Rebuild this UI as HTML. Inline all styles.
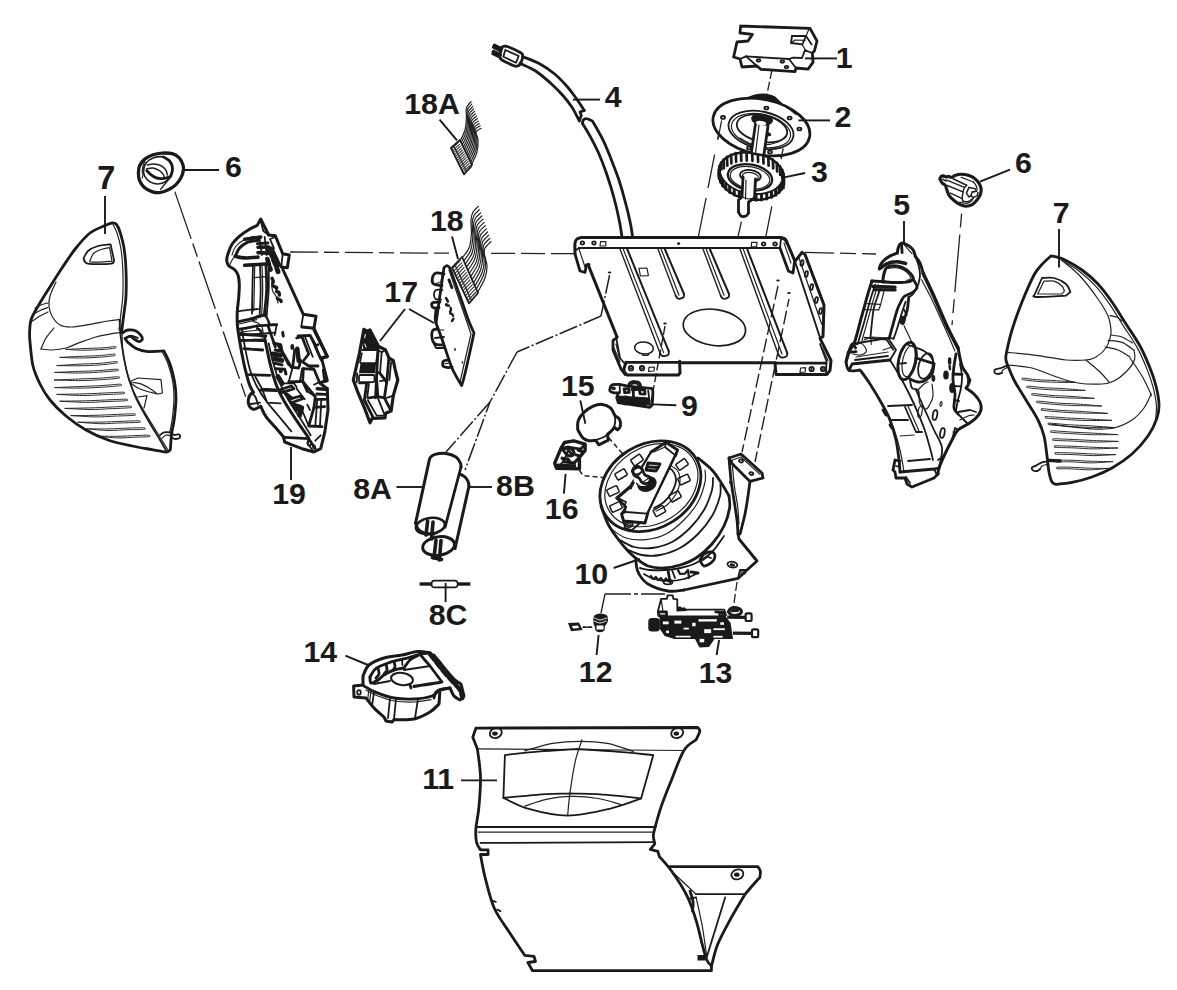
<!DOCTYPE html>
<html lang="en">
<head>
<meta charset="utf-8">
<title>Parts diagram</title>
<style>
html,body{margin:0;padding:0;background:#fff;}
body{width:1177px;height:990px;overflow:hidden;}
svg{display:block;}
.o{fill:none;stroke:#1a1a1a;stroke-width:2.8;stroke-linejoin:round;stroke-linecap:round;}
.m{fill:none;stroke:#1a1a1a;stroke-width:1.8;stroke-linejoin:round;stroke-linecap:round;}
.t{fill:none;stroke:#222;stroke-width:1.2;stroke-linejoin:round;stroke-linecap:round;}
.h{fill:none;stroke:#333;stroke-width:0.8;stroke-linejoin:round;stroke-linecap:round;}
.w{fill:#fff;}
.k{fill:#1a1a1a;stroke:none;}
.d{fill:none;stroke:#222;stroke-width:1.3;}
.l{fill:none;stroke:#1a1a1a;stroke-width:1.9;}
text{font-family:"Liberation Sans",sans-serif;font-size:30px;fill:#1a1a1a;stroke:#1a1a1a;stroke-width:0.5;}
text.b{font-weight:bold;stroke-width:0;}
</style>
</head>
<body>
<svg width="1177" height="990" viewBox="0 0 1177 990">
<rect width="1177" height="990" fill="#fff"/>
<!-- center lines -->
<path class="d" d="M174.8 191.6L248.4 404.5" style="stroke-dasharray:50 5 14 5;stroke-dashoffset:0;stroke-width:1.3"/>
<path class="d" d="M290 252L450 253.2" style="stroke-dasharray:28 6 15 6;stroke-dashoffset:0;stroke-width:1.3"/>
<path class="d" d="M491 253.4L575 253.6" style="stroke-dasharray:24 6;stroke-dashoffset:0;stroke-width:1.3"/>
<path class="d" d="M805 252.4L876 254" style="stroke-dasharray:29 6 16 6;stroke-dashoffset:0;stroke-width:1.3"/>
<path class="d" d="M961.6 213.6L952 325" style="stroke-dasharray:14 7 58 7;stroke-dashoffset:0;stroke-width:1.3"/>
<path class="d" d="M772 70L767 94" style="stroke-dasharray:9 3;stroke-dashoffset:0;stroke-width:1.3"/>
<path class="d" d="M721.6 119.3L698.4 236.7" style="stroke-dasharray:21 15 34 10 40 5;stroke-dashoffset:0;stroke-width:1.3"/>
<path class="d" d="M741.4 221.6L738 236.7" style="stroke-dasharray:20 4;stroke-dashoffset:0;stroke-width:1.3"/>
<path class="d" d="M783.3 148.4L765.8 236.7" style="stroke-dasharray:11 19 17 12 33 4;stroke-dashoffset:0;stroke-width:1.3"/>
<path class="d" d="M778 286L742 452" style="stroke-dasharray:14 4;stroke-dashoffset:0;stroke-width:1.4"/>
<path class="d" d="M789 299L755 462" style="stroke-dasharray:14 4;stroke-dashoffset:6;stroke-width:1.4"/>
<path class="d" d="M609.6 275L601 316" style="stroke-dasharray:19 2.5 2 2.5;stroke-dashoffset:0;stroke-width:1.5"/>
<path class="d" d="M601 316L517 352" style="stroke-dasharray:19 2.5 2 2.5;stroke-dashoffset:0;stroke-width:1.5"/>
<path class="d" d="M517 352L490 402" style="stroke-dasharray:19 2.5 2 2.5;stroke-dashoffset:0;stroke-width:1.5"/>
<path class="d" d="M490 402L446 452" style="stroke-dasharray:19 2.5 2 2.5;stroke-dashoffset:0;stroke-width:1.5"/>
<path class="d" d="M490 402L465 470" style="stroke-dasharray:19 2.5 2 2.5;stroke-dashoffset:8;stroke-width:1.5"/>
<path class="d" d="M665 326L651 402" style="stroke-dasharray:9 3;stroke-dashoffset:0;stroke-width:1.4"/>
<path class="d" d="M608.7 437.7L630 462.3" style="stroke-dasharray:5 3;stroke-dashoffset:0;stroke-width:1.5"/>
<path class="d" d="M579.3 470.3L583.3 475.7L606 477.7L616.7 478.3L628.7 486.3" style="stroke-dasharray:5 3;stroke-dashoffset:0;stroke-width:1.5"/>
<path class="d" d="M605 594L665 594" style="stroke-dasharray:26 3 4 3;stroke-dashoffset:0;stroke-width:1.5"/>
<path class="l" d="M605 594L601 613" style="stroke-width:1.3"/>
<path class="d" d="M737 582L733 610" style="stroke-dasharray:9 3;stroke-dashoffset:0;stroke-width:1.3"/>

<!-- cover 7 left -->
<path class="o" d="M121.6 332C121.9 329.3 122.9 322 123.6 316C124.3 310 125.6 303.7 126 296C126.4 288.3 126.3 278 126 270C125.7 262 125 254.3 124 248C123 241.7 121.2 235.9 120 232C118.8 228.1 117.8 226 116.5 224.5C115.2 223 113.9 222.8 112 223C110.1 223.2 108.7 223.9 105 225.6C101.3 227.3 94.8 229.3 90 233C85.2 236.7 80.7 242.2 76 248C71.3 253.8 66.7 261 62 268C57.3 275 52.2 283.3 48 290C43.8 296.7 39.8 303 37 308C34.2 313 32.2 316 31 320C29.8 324 29.8 328.3 29.6 332C29.4 335.7 29.4 336.3 30 342C30.6 347.7 31.3 359 33 366C34.7 373 37.2 378.3 40 384C42.8 389.7 45.7 394.7 50 400C54.3 405.3 60 411 66 416C72 421 79 426 86 430C93 434 100.3 437.3 108 440C115.7 442.7 124.7 444.4 132 446C139.3 447.6 146.3 448.6 152 449.6C157.7 450.6 163 451.9 166 452C169 452.1 169.3 450.3 170 450"/>
<path class="t" d="M113 224.5C113.7 225.9 115.7 229.1 117 233C118.3 236.9 119.8 241.8 120.8 248C121.8 254.2 122.5 262 122.8 270C123.1 278 123.2 288.3 122.8 296C122.4 303.7 121.2 310.3 120.6 316C120 321.7 119.3 327.7 119 330"/>
<path class="o" d="M122.4 333C123.3 332.5 125.7 330.3 128 330C130.3 329.7 133.8 330.1 136 331C138.2 331.9 139.9 334.3 141 335.6C142.1 336.9 142.7 338 142.4 339C142.1 340 140.4 341.6 139 341.6C137.6 341.6 135.5 339.9 134 339C132.5 338.1 131.5 336.5 130 336.4C128.5 336.3 125.8 338.1 125 338.4C125.5 339.1 126.2 340.7 128 342.4C129.8 344.1 132.7 346.9 136 348.4C139.3 349.9 143.3 351.2 148 351.6C152.7 352 161.3 351.1 164 351C165 353.2 168.2 358.8 170 364C171.8 369.2 173.6 376.3 174.6 382C175.6 387.7 176 392 176 398C176 404 175.1 412 174.4 418C173.7 424 172.3 428.8 171.6 434C170.9 439.2 170.6 446.5 170.4 449"/>
<path class="m" d="M128 342.4C129.3 343.4 132.7 346.9 136 348.4C139.3 349.9 143.3 351.2 148 351.6C152.7 352 161.3 351.1 164 351"/>
<path class="t" d="M162.4 352C163.4 354.2 166.7 360 168.4 365C170.1 370 171.9 376.5 172.8 382C173.7 387.5 174.1 392 174 398C173.9 404 173.1 412.2 172.4 418C171.7 423.8 170.1 430.5 169.6 433"/>
<path class="m" d="M126 338C126.8 337.6 129 335.6 131 335.6C133 335.6 136.8 337.6 138 338"/>
<path class="m" d="M119.6 320C119.8 322.7 119.9 330 120.6 336C121.3 342 122.4 349.3 123.6 356C124.8 362.7 125.9 369 128 376C130.1 383 132.7 390.7 136 398C139.3 405.3 144 413 148 420C152 427 156.9 434.8 160 440C163.1 445.2 165.3 449.2 166.4 451"/>
<path class="t" d="M122 333C122.1 335.8 122.2 344.5 122.8 350C123.4 355.5 124.3 360.3 125.6 366C126.9 371.7 128 377.7 130.4 384C132.8 390.3 136.4 397.3 140 404C143.6 410.7 148.2 417.7 152 424C155.8 430.3 160.3 437.7 163 442C165.7 446.3 167.2 448.7 168 450"/>
<path class="t" d="M56 282C55 284.3 51.2 292 50 296C48.8 300 48.7 302.7 49 306C49.3 309.3 50.2 312.8 52 316C53.8 319.2 56.7 323.2 60 325C63.3 326.8 67 327.1 72 327C77 326.9 84 325.4 90 324.4C96 323.4 103 321.8 108 321C113 320.2 118 319.8 120 319.6"/>
<path class="t" d="M41 349C42.8 349.2 47.8 350.2 52 350C56.2 349.8 61.3 349.3 66 348C70.7 346.7 75 344.2 80 342.4C85 340.6 90.7 338.5 96 337C101.3 335.5 108 334.3 112 333.6C116 332.9 118.7 332.8 120 332.6"/>
<path class="t" d="M54 328C52.7 329.7 48.2 334.5 46 338C43.8 341.5 41.8 347.2 41 349"/>
<path class="t" d="M31 322C32.5 321 37.2 317.7 40 316C42.8 314.3 46.7 312.7 48 312"/>
<path class="t" d="M35 308C36 307.5 38.8 305.8 41 305C43.2 304.2 46.8 303.3 48 303"/>
<path class="t" d="M34 314C35.2 313.3 38.7 311.1 41 310C43.3 308.9 46.8 307.9 48 307.5"/>
<path class="m" d="M83.6 258.4C84.3 257.2 85.6 253.1 88 251C90.4 248.9 94.2 247.1 98 246C101.8 244.9 108.5 244.7 110.6 244.4L114 260C113.5 260.6 115.3 263 111 263.6C106.7 264.2 92.6 264.5 88 263.6C83.4 262.7 84.3 259.3 83.6 258.4"/>
<path class="t" d="M90 260.4C90.7 259.2 92 254.9 94 253C96 251.1 99.4 250.1 102 249.2C104.6 248.3 108.3 247.9 109.6 247.6L112 261.2C108.7 261.4 95.7 262.3 92 262.2C88.3 262.1 90.3 260.7 90 260.4"/>
<path class="t" d="M66 349.4C68.8 349.5 76.8 350.2 83 350.2C89.2 350.2 97.8 349.7 103 349.4C108.2 349.1 112.2 348.5 114.4 348.2C116.6 347.9 116 347.7 116 347.4C116 347.1 116.6 346.5 114.4 346.6C112.2 346.7 108.2 347.5 103 347.8C97.8 348.1 89.2 348.3 83 348.6C76.8 348.9 68.8 349.3 66 349.4" style="stroke-width:0.95"/>
<path class="t" d="M60 357.4C63.2 357.5 72.9 358 79.5 358C86.1 358 93.8 357.6 99.5 357.2C105.2 356.8 110.8 356.2 113.4 355.8C116 355.4 115 355.3 115 355C115 354.7 116 354.1 113.4 354.2C110.8 354.3 105.2 355.2 99.5 355.6C93.8 356 86.1 356.1 79.5 356.4C72.9 356.7 63.2 357.2 60 357.4" style="stroke-width:0.95"/>
<path class="t" d="M57 365.6C60.7 365.6 72 365.9 79 365.8C86 365.7 92.9 365.4 99 365C105.1 364.6 112.4 363.6 115.4 363.2C118.4 362.8 117 362.7 117 362.4C117 362.1 118.4 361.4 115.4 361.6C112.4 361.8 105.1 363 99 363.4C92.9 363.8 86 363.8 79 364.2C72 364.6 60.7 365.4 57 365.6" style="stroke-width:0.95"/>
<path class="t" d="M55 372.4C58.9 372.5 71.2 373 78.5 373C85.8 373 92.2 372.6 98.5 372.2C104.8 371.8 113.2 371.2 116.4 370.8C119.7 370.4 118 370.3 118 370C118 369.7 119.7 369.1 116.4 369.2C113.2 369.3 104.8 370.2 98.5 370.6C92.2 371 85.8 371.1 78.5 371.4C71.2 371.7 58.9 372.2 55 372.4" style="stroke-width:0.95"/>
<path class="t" d="M54.4 380C58.5 380.1 71.3 380.6 78.7 380.6C86.1 380.6 92.2 380.2 98.7 379.8C105.2 379.4 114 378.8 117.4 378.4C120.8 378 119 377.9 119 377.6C119 377.3 120.8 376.7 117.4 376.8C114 376.9 105.2 377.8 98.7 378.2C92.2 378.6 86.1 378.7 78.7 379C71.3 379.3 58.5 379.8 54.4 380" style="stroke-width:0.95"/>
<path class="t" d="M55 387.6C59.2 387.7 72.5 388.2 80 388.1C87.5 388.1 93.4 387.7 100 387.3C106.6 386.9 115.9 386.2 119.4 385.8C122.9 385.4 121 385.3 121 385C121 384.7 122.9 384.1 119.4 384.2C115.9 384.3 106.6 385.3 100 385.7C93.4 386.1 87.5 386.2 80 386.5C72.5 386.8 59.2 387.4 55 387.6" style="stroke-width:0.95"/>
<path class="t" d="M57 394.4C61.2 394.6 74.9 395.4 82.5 395.5C90.1 395.6 95.8 395 102.5 394.7C109.2 394.4 118.8 394.1 122.4 393.8C126 393.5 124 393.3 124 393C124 392.7 126 392.2 122.4 392.2C118.8 392.2 109.2 392.8 102.5 393.1C95.8 393.4 90.1 393.7 82.5 393.9C74.9 394.1 61.2 394.3 57 394.4" style="stroke-width:0.95"/>
<path class="t" d="M60 401.2C64.2 401.4 77.9 402.3 85.5 402.4C93.1 402.5 98.8 401.9 105.5 401.6C112.2 401.3 121.8 401.1 125.4 400.8C129 400.5 127 400.3 127 400C127 399.7 129 399.2 125.4 399.2C121.8 399.2 112.2 399.7 105.5 400C98.8 400.3 93.1 400.6 85.5 400.8C77.9 401 64.2 401.1 60 401.2" style="stroke-width:0.95"/>
<path class="t" d="M65 408.4C69.2 408.6 82.5 409.4 90 409.5C97.5 409.6 103.4 409 110 408.7C116.6 408.4 125.9 408.1 129.4 407.8C132.9 407.5 131 407.3 131 407C131 406.7 132.9 406.2 129.4 406.2C125.9 406.2 116.6 406.8 110 407.1C103.4 407.4 97.5 407.7 90 407.9C82.5 408.1 69.2 408.3 65 408.4" style="stroke-width:0.95"/>
<path class="t" d="M71 415.6C75 415.8 87.7 416.8 95 416.9C102.3 417 108.6 416.4 115 416.1C121.4 415.9 130.1 415.6 133.4 415.4C136.7 415.1 135 414.9 135 414.6C135 414.3 136.7 413.8 133.4 413.8C130.1 413.8 121.4 414.2 115 414.5C108.6 414.8 102.3 415.1 95 415.3C87.7 415.5 75 415.6 71 415.6" style="stroke-width:0.95"/>
<path class="t" d="M78 422.2C81.8 422.4 93.8 423.6 101 423.7C108.2 423.8 114.8 423.1 121 422.9C127.2 422.7 135.2 422.6 138.4 422.4C141.6 422.2 140 421.9 140 421.6C140 421.3 141.6 420.9 138.4 420.8C135.2 420.8 127.2 421.1 121 421.3C114.8 421.5 108.2 422 101 422.1C93.8 422.2 81.8 422.2 78 422.2" style="stroke-width:0.95"/>
<path class="t" d="M87 428.8C90.5 429.1 101.2 430.4 108 430.5C114.8 430.6 122.1 429.9 128 429.7C133.9 429.5 140.6 429.6 143.4 429.4C146.2 429.2 145 428.9 145 428.6C145 428.3 146.2 427.9 143.4 427.8C140.6 427.7 133.9 427.9 128 428.1C122.1 428.3 114.8 428.8 108 428.9C101.2 429 90.5 428.8 87 428.8" style="stroke-width:0.95"/>
<path class="t" d="M100 436.2C102.8 436.5 110.8 437.8 117 437.9C123.2 438 131.8 437.3 137 437.1C142.2 436.9 146.2 437 148.4 436.8C150.6 436.6 150 436.3 150 436C150 435.7 150.6 435.3 148.4 435.2C146.2 435.1 142.2 435.3 137 435.5C131.8 435.7 123.2 436.2 117 436.3C110.8 436.4 102.8 436.2 100 436.2" style="stroke-width:0.95"/>
<path class="t" d="M131 381L138 378L161 379.6L162.4 393C161.3 393.1 159.7 394.3 156 393.6C152.3 392.9 144 390.6 140 389C136 387.4 133.5 385.3 132 384C130.5 382.7 131.2 381.5 131 381"/>
<path class="t" d="M133 382.4C134.2 382.6 137.3 382.7 140 383.6C142.7 384.5 146.3 386.5 149 388C151.7 389.5 154.8 392 156 392.8"/>
<path class="t" d="M138 397L147 395.6L144 408"/>
<path class="m" d="M160 435C160.7 434.6 162.3 432.8 164 432.4C165.7 432 168.3 432 170 432.4C171.7 432.8 173.3 434.6 174 435C174.8 434.9 178 434 179 434.4C180 434.8 180.5 436.8 180 437.6C179.5 438.4 177.3 438.9 176 439C174.7 439.1 173 438.2 172.4 438"/>
<path class="t" d="M162.4 438C163 437.5 164.7 435.4 166 435C167.3 434.6 169.3 435.5 170 435.6"/>
<path class="l" d="M105 196L105 234"/>

<!-- grommet 6 left -->
<path class="o" d="M138.4 173.1C138.4 170.6 138.6 167.8 139.7 165.5C140.7 163.2 142.6 160.9 144.8 159.1C146.9 157.4 149.5 156 152.4 155C155.3 154 158.7 153.3 162 153.1C165.3 152.9 169.3 152.9 172.2 153.7C175 154.5 177.4 156 179.2 157.8C181 159.7 182.3 162.7 183 164.9C183.7 167 183.6 168.5 183.3 170.6C183 172.7 182.3 175.3 181.1 177.6C179.9 179.9 178.1 182.6 176 184.6C173.9 186.6 171.1 188.4 168.3 189.7C165.6 191 162.2 192.3 159.4 192.6C156.7 192.9 154.3 192.5 151.8 191.6C149.2 190.7 146.1 189 144.1 187.2C142.1 185.4 140.6 183.1 139.7 180.8C138.7 178.5 138.4 175.7 138.4 173.1Z" style="stroke-width:3.3"/>
<path class="m" d="M146 162.9C147.7 160.9 150.8 158.9 153.7 157.8C156.5 156.8 160.6 156.4 163.2 156.9C165.9 157.4 168.1 159.2 169.6 161C171.2 162.9 172.3 165.6 172.5 168C172.7 170.5 172 173.5 170.9 175.7C169.8 177.9 167.9 180 165.8 181.4C163.7 182.8 160.7 183.9 158.1 184C155.6 184.1 152.7 183.3 150.5 182.1C148.3 180.8 145.9 178.3 144.8 176.3C143.6 174.3 143.3 172.2 143.5 170C143.7 167.7 144.3 165 146 162.9Z" style="stroke-width:1.6"/>
<path class="o" d="M163.2 156.9C164.3 157.6 168.1 159.2 169.6 161C171.2 162.9 172.3 165.6 172.5 168C172.7 170.5 171.5 174.1 170.9 175.7C170.3 177.3 169.3 177.3 169 177.6" style="stroke-width:2.8"/>
<path class="t" d="M147.3 164.9C148.4 164.7 151.4 163.8 153.7 163.9C155.9 164 158.7 164.5 160.7 165.5C162.7 166.5 164.7 168.4 165.8 170C166.9 171.5 167.1 174.2 167.4 175.1" style="stroke-width:1.5"/>
<path class="t" d="M146.7 168.7C147.7 168.6 150.9 167.7 153 168C155.2 168.4 157.7 169.5 159.4 170.6C161.1 171.7 162.4 173.2 163.2 174.4C164.1 175.6 164.3 177.1 164.5 177.6" style="stroke-width:1.5"/>
<path class="o" d="M146.7 170.6C147.3 171.2 149 173.2 150.5 174.4C152 175.6 153.9 176.9 155.6 177.6C157.3 178.3 159 178.5 160.7 178.6C162.4 178.7 164.4 178.5 165.8 178.2C167.2 178 168.4 177.2 169 177" style="stroke-width:2.8"/>
<path class="t" d="M146 162.9C145.7 163.6 144.5 165.3 144.1 166.8C143.7 168.3 143.8 170 143.5 171.9C143.2 173.8 142.4 177.2 142.2 178.2"/>
<path class="t" d="M144.8 161C144.4 162 143.3 164.8 142.8 166.8C142.4 168.8 142.3 172.1 142.2 173.1"/>
<path class="t" d="M169.6 178.2L160.7 189.1" style="stroke-width:1.5"/>
<path class="l" d="M184 170L200 170"/>
<path class="l" d="M184 170L219 170"/>

<!-- cover 7 right -->
<path class="o" d="M1051 256C1049.5 257.4 1044.8 261.2 1042 264.4C1039.2 267.6 1037.3 268.7 1034 275C1030.7 281.3 1025.7 292.8 1022 302C1018.3 311.2 1014.6 321.5 1012 330C1009.4 338.5 1007.4 348 1006.4 353C1005.4 358 1005.7 357.8 1006 360C1006.3 362.2 1006.7 362.7 1008 366C1009.3 369.3 1011 374.3 1014 380C1017 385.7 1022 393.3 1026 400C1030 406.7 1035 414 1038 420C1041 426 1042.5 430 1044 436C1045.5 442 1046.2 450 1047 456C1047.8 462 1048.2 467.7 1049 472C1049.8 476.3 1050.8 479.9 1052 482C1053.2 484.1 1055.3 484 1056 484.4C1058.7 484.1 1066 483.6 1072 482.4C1078 481.2 1085.3 479.4 1092 477C1098.7 474.6 1105.3 471.8 1112 468C1118.7 464.2 1126 459.3 1132 454C1138 448.7 1143.8 442 1148 436C1152.2 430 1155.2 423.3 1157 418C1158.8 412.7 1159.2 409.3 1159 404C1158.8 398.7 1157.5 392 1156 386C1154.5 380 1152.7 374.7 1150 368C1147.3 361.3 1144 353.3 1140 346C1136 338.7 1130.7 331.3 1126 324C1121.3 316.7 1116.7 308.7 1112 302C1107.3 295.3 1103 289.3 1098 284C1093 278.7 1087.3 273.9 1082 270C1076.7 266.1 1070.3 262.6 1066 260.4C1061.7 258.2 1058.5 257.5 1056 256.8C1053.5 256.1 1051.8 256.1 1051 256"/>
<path class="t" d="M1062 260.4C1065 263 1074 269.6 1080 276C1086 282.4 1093.3 292.3 1098 299C1102.7 305.7 1105.8 310.8 1108 316C1110.2 321.2 1110.7 326.3 1111 330C1111.3 333.7 1110.8 335 1110 338C1109.2 341 1108.3 344.8 1106 348C1103.7 351.2 1099.3 355 1096 357C1092.7 359 1091 359.5 1086 360C1081 360.5 1074 360.7 1066 360C1058 359.3 1047.7 356.9 1038 355.6C1028.3 354.3 1013 352.9 1008 352.4"/>
<path class="t" d="M1062 260.4C1064.9 262.2 1073.7 267 1079.2 271.2C1084.7 275.4 1090.2 280.2 1095.2 285.6C1100.2 291 1104.5 296.9 1109.2 303.6C1113.9 310.3 1118.5 318.3 1123.2 325.6C1127.9 332.9 1133.2 340.3 1137.2 347.6C1141.2 354.9 1144.5 362.9 1147.2 369.6C1149.9 376.3 1151.7 381.7 1153.2 387.6C1154.7 393.5 1156 399.8 1156.4 405.2C1156.8 410.6 1155.7 417.5 1155.6 420"/>
<path class="t" d="M1110 315.6C1111.2 315.9 1115 316.3 1117 317.2C1119 318.1 1121.2 320.4 1122 321"/>
<path class="t" d="M1111 335C1112.8 335.3 1118.4 335.7 1122 337C1125.6 338.3 1130.7 342 1132.4 343"/>
<path class="t" d="M1108 340.4C1110.3 340.7 1117.7 340.8 1122 342.4C1126.3 344 1131.7 348.7 1133.6 350"/>
<path class="t" d="M1105 347C1107.2 347.5 1113.8 348.3 1118 350C1122.2 351.7 1128 355.8 1130 357"/>
<path class="t" d="M1086 360C1088.3 362 1096.2 368.3 1100 372C1103.8 375.7 1107.5 380.3 1109 382"/>
<path class="t" d="M1134 350C1134.1 351.7 1135.7 356.3 1134.4 360C1133.1 363.7 1129.4 368.5 1126 372C1122.6 375.5 1118 379 1114 381C1110 383 1108 383.7 1102 384C1096 384.3 1086 384.3 1078 383C1070 381.7 1061.7 378.5 1054 376C1046.3 373.5 1039.8 369.8 1032 368C1024.2 366.2 1011.2 365.5 1007 365"/>
<path class="t" d="M1130 358C1132 361 1138.7 370.3 1142 376C1145.3 381.7 1148.5 388.7 1150 392C1151.5 395.3 1151 395.3 1151.2 396"/>
<path class="t" d="M1151.2 394C1150 396.3 1147.2 403.7 1144 408C1140.8 412.3 1137 416.7 1132 420C1127 423.3 1120.3 426.5 1114 428C1107.7 429.5 1101 429.2 1094 429C1087 428.8 1079.3 427.8 1072 427C1064.7 426.2 1053.7 424.5 1050 424"/>
<path class="m" d="M1034.4 295L1042 278C1044 278 1050 277 1054 278C1058 279 1063.3 281.7 1066 284C1068.7 286.3 1069.7 290.7 1070.4 292L1066 295.6C1061 295.8 1041.3 297.1 1036 297C1030.7 296.9 1034.7 295.3 1034.4 295"/>
<path class="t" d="M1037.6 294L1044 281.2C1045.7 281.2 1051 280.4 1054 281.2C1057 282 1060.3 284.4 1062 286C1063.7 287.6 1064 290.2 1064.4 291L1062 294L1037.6 294"/>
<path class="m" d="M1007 365.6C1006 366 1002.7 367.4 1001 368C999.3 368.6 998.1 368.7 997 369C995.9 369.3 994.9 369.3 994.6 370C994.3 370.7 994.4 372.3 995 373C995.6 373.7 996.8 374 998 374C999.2 374 1001.3 373.2 1002 373"/>
<path class="t" d="M1008 367C1007.2 367.5 1004.1 369 1003 370C1001.9 371 1001.8 372.5 1001.6 373"/>
<path class="m" d="M1047.6 461.6C1046.7 461.7 1043.9 461.7 1042 462.4C1040.1 463.1 1037.7 464.7 1036 465.6C1034.3 466.5 1032.5 466.8 1032 467.6C1031.5 468.4 1032.2 469.8 1033 470.4C1033.8 471 1035.8 471.2 1037 471C1038.2 470.8 1039.5 469.3 1040 469"/>
<path class="t" d="M1047 464.4C1046.2 464.7 1043.2 465.1 1042 466C1040.8 466.9 1040.3 469 1040 469.6"/>
<path class="o" d="M1048 460.4L1060 461" style="stroke-width:3.4"/>
<path class="t" d="M1075 382.4C1071.9 382.4 1062.9 382.5 1056.5 382.3C1050.1 382.1 1042 381.7 1036.5 381.3C1031 380.9 1026 380.2 1023.6 379.8C1021.2 379.4 1022 379.3 1022 379C1022 378.7 1021.2 378.1 1023.6 378.2C1026 378.3 1031 379.3 1036.5 379.7C1042 380.1 1050.1 380.2 1056.5 380.7C1062.9 381.1 1071.9 382.1 1075 382.4" style="stroke-width:0.95"/>
<path class="t" d="M1085 390.4C1081.5 390.4 1070.8 390.5 1064 390.3C1057.2 390.1 1049.9 389.7 1044 389.3C1038.1 388.9 1031.4 388.2 1028.6 387.8C1025.8 387.4 1027 387.3 1027 387C1027 386.7 1025.8 386.1 1028.6 386.2C1031.4 386.3 1038.1 387.3 1044 387.7C1049.9 388.1 1057.2 388.2 1064 388.7C1070.8 389.1 1081.5 390.1 1085 390.4" style="stroke-width:0.95"/>
<path class="t" d="M1094 398.4C1090.2 398.3 1078.2 398.2 1071 398C1063.8 397.8 1057.2 397.5 1051 397C1044.8 396.5 1036.8 395.6 1033.6 395.2C1030.4 394.8 1032 394.7 1032 394.4C1032 394.1 1030.4 393.4 1033.6 393.6C1036.8 393.8 1044.8 394.9 1051 395.4C1057.2 395.9 1063.8 395.9 1071 396.4C1078.2 396.9 1090.2 398.1 1094 398.4" style="stroke-width:0.95"/>
<path class="t" d="M1101.4 406C1097.4 405.9 1084.6 405.8 1077.2 405.6C1069.8 405.4 1063.6 405.1 1057.2 404.6C1050.8 404.1 1042 403.2 1038.6 402.8C1035.2 402.4 1037 402.3 1037 402C1037 401.7 1035.2 401 1038.6 401.2C1042 401.4 1050.8 402.5 1057.2 403C1063.6 403.5 1069.8 403.5 1077.2 404C1084.6 404.5 1097.4 405.7 1101.4 406" style="stroke-width:0.95"/>
<path class="t" d="M1107.4 413.4C1103.2 413.3 1089.9 413.3 1082.4 413.1C1074.9 412.9 1069 412.6 1062.4 412.1C1055.8 411.7 1046.5 410.8 1043 410.4C1039.5 410 1041.4 409.9 1041.4 409.6C1041.4 409.3 1039.5 408.7 1043 408.8C1046.5 408.9 1055.8 410.1 1062.4 410.5C1069 410.9 1074.9 411 1082.4 411.5C1089.9 412 1103.2 413.1 1107.4 413.4" style="stroke-width:0.95"/>
<path class="t" d="M1111.6 420.4C1107.4 420.4 1094 420.6 1086.5 420.5C1079 420.4 1073.1 419.9 1066.5 419.5C1059.9 419.1 1050.5 418.6 1047 418.2C1043.5 417.8 1045.4 417.7 1045.4 417.4C1045.4 417.1 1043.5 416.5 1047 416.6C1050.5 416.7 1059.9 417.5 1066.5 417.9C1073.1 418.3 1079 418.5 1086.5 418.9C1094 419.3 1107.4 420.1 1111.6 420.4" style="stroke-width:0.95"/>
<path class="t" d="M1115 427.6C1110.8 427.6 1097.2 427.6 1089.7 427.4C1082.2 427.2 1076.3 426.8 1069.7 426.4C1063.1 426 1053.5 425.2 1050 424.8C1046.5 424.4 1048.4 424.3 1048.4 424C1048.4 423.7 1046.5 423.1 1050 423.2C1053.5 423.3 1063.1 424.4 1069.7 424.8C1076.3 425.2 1082.2 425.3 1089.7 425.8C1097.2 426.3 1110.8 427.3 1115 427.6" style="stroke-width:0.95"/>
<path class="t" d="M1117.4 434.6C1113.2 434.6 1099.7 434.9 1092.2 434.7C1084.7 434.5 1078.8 434.1 1072.2 433.7C1065.6 433.3 1056.1 432.8 1052.6 432.4C1049.1 432 1051 431.9 1051 431.6C1051 431.3 1049.1 430.7 1052.6 430.8C1056.1 430.9 1065.6 431.7 1072.2 432.1C1078.8 432.5 1084.7 432.7 1092.2 433.1C1099.7 433.5 1113.2 434.4 1117.4 434.6" style="stroke-width:0.95"/>
<path class="t" d="M1118 441.4C1113.9 441.5 1100.9 442.2 1093.5 442.1C1086.1 442.1 1080 441.4 1073.5 441.1C1067 440.8 1058 440.6 1054.6 440.4C1051.2 440.1 1053 439.9 1053 439.6C1053 439.3 1051.2 438.8 1054.6 438.8C1058 438.8 1067 439.2 1073.5 439.5C1080 439.8 1086.1 440.2 1093.5 440.5C1100.9 440.8 1113.9 441.2 1118 441.4" style="stroke-width:0.95"/>
<path class="t" d="M1117.6 448C1113.7 448.1 1101.3 448.9 1094 448.9C1086.7 448.9 1080.3 448.1 1074 447.9C1067.7 447.6 1059.3 447.6 1056 447.4C1052.7 447.2 1054.4 446.9 1054.4 446.6C1054.4 446.3 1052.7 445.9 1056 445.8C1059.3 445.8 1067.7 446.1 1074 446.3C1080.3 446.6 1086.7 447 1094 447.3C1101.3 447.6 1113.7 447.9 1117.6 448" style="stroke-width:0.95"/>
<path class="t" d="M1115.6 454.6C1111.9 454.8 1100.3 455.6 1093.3 455.6C1086.2 455.6 1079.4 454.8 1073.3 454.6C1067.2 454.4 1059.6 454.4 1056.6 454.2C1053.5 454 1055 453.7 1055 453.4C1055 453.1 1053.5 452.7 1056.6 452.6C1059.6 452.5 1067.2 452.8 1073.3 453C1079.4 453.2 1086.2 453.7 1093.3 454C1100.3 454.3 1111.9 454.5 1115.6 454.6" style="stroke-width:0.95"/>
<path class="t" d="M1112.6 461.6C1109.2 461.8 1098.8 462.8 1092.1 462.9C1085.3 462.9 1077.9 462.1 1072.1 461.9C1066.3 461.7 1060 461.9 1057.2 461.8C1054.5 461.7 1055.6 461.3 1055.6 461C1055.6 460.7 1054.5 460.3 1057.2 460.2C1060 460.1 1066.3 460.1 1072.1 460.3C1077.9 460.5 1085.3 461.1 1092.1 461.3C1098.8 461.5 1109.2 461.6 1112.6 461.6" style="stroke-width:0.95"/>
<path class="t" d="M1108 468.4C1105 468.6 1096.5 469.7 1090.2 469.8C1083.9 469.9 1075.6 469 1070.2 468.8C1064.8 468.6 1060.3 468.9 1058 468.8C1055.7 468.7 1056.4 468.3 1056.4 468C1056.4 467.7 1055.7 467.3 1058 467.2C1060.3 467.1 1064.8 467 1070.2 467.2C1075.6 467.4 1083.9 468 1090.2 468.2C1096.5 468.4 1105 468.4 1108 468.4" style="stroke-width:0.95"/>
<path class="l" d="M1059 229L1059 267.6"/>

<!-- panel 19 -->
<path class="o" d="M268.7 235L260.7 219L257.3 225.4C255.9 226.1 251.7 227.8 248.7 229.7C245.7 231.5 242.1 233.9 239.3 236.3C236.6 238.8 233.9 241.4 232 244.3C230.1 247.2 228.9 251 228 253.7C227.1 256.3 226.6 258.3 226.7 260.3C226.8 262.3 227.3 264.1 228.7 265.7C230 267.2 233.1 268.1 234.7 269.7C236.2 271.2 237.2 272.6 238 275C238.8 277.4 239.2 280.6 239.3 284.3C239.4 288.1 239 293.2 238.7 297.7C238.3 302.1 237.6 306.6 237.3 311C237.1 315.4 237.1 320.3 237.3 324.3C237.6 328.3 238.1 331.2 238.7 335C239.2 338.8 240 343.2 240.7 347C241.3 350.8 241.9 353.9 242.7 357.7C243.4 361.4 244.2 365.2 245.3 369.7C246.4 374.1 248 380.6 249.3 384.3C250.7 388.1 252.7 391 253.3 392.3" style="stroke-width:3"/>
<path class="o" d="M268.7 235L275.3 235.7L282.7 253.7L289.3 255L287.3 267.7L281.3 267" style="stroke-width:3"/>
<path class="m" d="M260.7 220.3L263.3 231L268.7 235"/>
<path class="o" d="M282.7 269L303.3 314.3L316 316.3L314 328.3L302 327" style="stroke-width:3"/>
<path class="m" d="M303.3 314.3L301.3 326.3"/>
<path class="o" d="M314 328.3L327.3 356.3L322 357.7" style="stroke-width:3"/>
<path class="o" d="M271.3 247.7L278.7 265.7"/>
<path class="m" d="M275.3 237L270 239L274 248.3"/>
<path class="m" d="M282.7 253.7L281.3 267"/>
<path class="o" d="M235.3 256.3C236 255 237.3 250.7 239.3 248.3C241.3 246 244.2 243.7 247.3 242.3C250.4 241 256.2 240.7 258 240.3" style="stroke-width:3"/>
<path class="o" d="M235.3 256.3C236.9 256.6 240.9 257.8 244.7 257.9C248.4 258.1 255.8 257.3 258 257.1" style="stroke-width:3.6"/>
<path class="t" d="M232 255C232.6 253.7 233.4 249.4 235.3 247C237.2 244.6 240.2 242.1 243.3 240.3C246.4 238.6 252.2 237 254 236.3"/>
<path class="t" d="M230 264.3C230.4 263.4 231.8 260.3 232.7 259C233.6 257.7 234.9 256.8 235.3 256.3"/>
<path class="o" d="M244.7 239.3L260.7 237.1" style="stroke-width:3.6"/>
<path class="o" d="M244.7 265.3L268.7 263.8" style="stroke-width:3.6"/>
<path class="o" d="M257.3 243.7L268 243"/>
<path class="o" d="M258 247.3L268.7 247" style="stroke-width:3.6"/>
<path class="o" d="M258 252.6L268.7 253.1" style="stroke-width:3.6"/>
<path class="m" d="M259.3 237.7L262 255"/>
<path class="m" d="M264.7 237L266.7 255"/>
<path class="o" d="M269.3 249.7L273.3 259L276 265.7L278 271.7" style="stroke-width:5;stroke-dasharray:7 3"/>
<path class="o" d="M267.3 259L270.7 269.7" style="stroke-width:4.5;stroke-dasharray:6 3"/>
<path class="m" d="M272.7 248.3L280.7 265.7"/>
<path class="m" d="M252.9 265.7C252.8 269.7 252.6 281.7 252.4 289.7C252.2 297.7 252.1 309.7 252 313.7"/>
<path class="t" d="M254.7 265.7C254.6 269.7 254.4 282.1 254.3 289.7C254.1 297.2 253.8 307.4 253.7 311"/>
<path class="m" d="M260 265.7C260.1 269.7 260.7 281.7 260.7 289.7C260.6 297.7 259.9 309.7 259.7 313.7"/>
<path class="t" d="M262 265.4C262.1 269.4 262.7 281.6 262.7 289.7C262.6 297.7 261.9 309.7 261.7 313.7"/>
<path class="o" d="M266 264.6C266.1 268.8 266.9 281.4 266.7 289.7C266.4 298 264.8 310.2 264.4 314.3"/>
<path class="m" d="M268.7 268.3C268.7 271.9 269 281.9 268.7 289.7C268.3 297.4 267 310.8 266.7 315"/>
<path class="t" d="M252.9 277.7L266 276.6"/>
<path class="o" d="M272 278.3C272.2 278.9 273.4 280.7 273.3 281.7C273.3 282.7 271.5 283.6 271.6 284.3C271.7 285.1 273.2 285.8 274 286.3C274.8 286.9 276.4 286.9 276.7 287.7C276.9 288.4 275 290.2 275.3 291C275.7 291.8 278 291.6 278.7 292.3C279.3 293.1 279.6 294.7 279.3 295.7C279.1 296.7 277.1 297.6 277.3 298.3C277.6 299.1 280 299.6 280.7 300.3C281.3 301.1 281.2 302.6 281.3 303" style="stroke-dasharray:5 4;stroke-width:3.4"/>
<path class="t" d="M271.6 284.3C271.8 285.4 271.9 289 272.7 291C273.4 293 275.1 294.3 276 296.3C276.9 298.3 277.7 301.9 278 303"/>
<path class="m" d="M238 311.3C239.8 311 245.3 310.3 248.7 309.9C252 309.6 256.4 309.2 258 309"/>
<path class="o" d="M237.7 321.7C239.3 321.3 244.4 320.3 247.3 319.7C250.3 319 252.2 318.6 255.3 317.7C258.4 316.8 264.2 314.9 266 314.3"/>
<path class="t" d="M238.3 324.3C240 323.9 245.6 322.4 248.7 321.7C251.7 320.9 255.3 320 256.7 319.7"/>
<path class="o" d="M238.7 329.3C240.3 329 245.2 328.3 248.7 327.7C252.1 327.1 254.7 326.2 259.3 325.7C264 325.2 273.8 324.8 276.7 324.6"/>
<path class="m" d="M239.3 335.3C241.3 335.1 247.6 334.6 251.3 334.3C255.1 334.1 258 334 262 333.7C266 333.4 273.1 332.8 275.3 332.6"/>
<path class="t" d="M240 332.3C241.7 332.1 246.6 331.4 250 331C253.4 330.6 258.9 329.9 260.7 329.7"/>
<path class="o" d="M240.7 340.6C242.7 340.5 248.7 340.2 252.7 340.1C256.7 339.9 262.7 339.8 264.7 339.8"/>
<path class="m" d="M252.7 320.3C253.3 319.7 254.9 317.2 256.7 316.3C258.4 315.4 261.6 314.6 263.3 315C265.1 315.4 266.3 317.2 267.3 319C268.3 320.8 269 324.6 269.3 325.7"/>
<path class="t" d="M253.3 321.7C254.1 321.9 256.6 322.1 258 323C259.4 323.9 261.1 325.2 262 327C262.9 328.8 263.1 332.6 263.3 333.7"/>
<path class="o" d="M257.3 328.3C257.9 328.8 259.9 329.7 260.7 331C261.4 332.3 261.8 335.4 262 336.3"/>
<path class="m" d="M266 315L270 324.3L276.7 324.6L274.7 335"/>
<path class="o" d="M268 325.7L275.3 347"/>
<ellipse class="k" cx="282.9" cy="332.6" rx="0.9" ry="1.9"/>
<path class="o" d="M253.3 392.3C252.9 392.6 251.5 392.8 250.7 394C249.8 395.2 248.6 397.3 248.4 399.3C248.2 401.3 248.4 404.3 249.3 406C250.3 407.7 252.1 409.3 254 409.3C255.9 409.4 259.6 406.8 260.7 406.3" style="stroke-width:3"/>
<path class="m" d="M252 394C252.6 394.4 254.3 394.9 255.3 396.7C256.3 398.4 257.6 403.3 258 404.7"/>
<path class="m" d="M250.7 404L260 402.7"/>
<path class="o" d="M260.7 406.3C261.6 408 263.6 413.2 266 416.7C268.4 420.2 272.4 424 275.3 427.3C278.2 430.7 282 435.1 283.3 436.7" style="stroke-width:3"/>
<path class="o" d="M283.3 436.7L284.7 442L291.3 444.7L302 448.7L314 452L320.7 448.7L324.7 432.7L328 410L327.3 388.7" style="stroke-width:3"/>
<path class="o" d="M284.7 437.3L308.7 438.7L315.3 448.7"/>
<path class="m" d="M308.7 438.7L307.3 443.3L314 452"/>
<ellipse class="m" cx="309.3" cy="443.3" rx="1.6" ry="2.4"/>
<ellipse class="t" cx="314" cy="446.7" rx="1.3" ry="1.9"/>
<path class="m" d="M320.7 435.3L315.3 440.7"/>
<path class="m" d="M242 330C242.4 332.7 243.3 339.3 244.7 346C246 352.7 248 363.3 250 370C252 376.7 254 380.9 256.7 386C259.3 391.1 262.4 395.8 266 400.7C269.6 405.6 273.8 410.2 278 415.3C282.2 420.4 289.1 428.7 291.3 431.3"/>
<path class="o" d="M264.7 338C265.6 342.2 268 355.3 270 363.3C272 371.3 274.2 379.6 276.7 386C279.1 392.4 281.3 396.2 284.7 402C288 407.8 292.7 414.7 296.7 420.7C300.7 426.7 306.7 435.1 308.7 438" style="stroke-width:3"/>
<path class="m" d="M268.7 343.3C269.4 346.7 271.4 356.7 273.3 363.3C275.2 370 277.6 377.3 280 383.3C282.4 389.3 284.7 393.6 288 399.3C291.3 405.1 296.2 412 300 418C303.8 424 308.9 432.4 310.7 435.3"/>
<path class="o" d="M239.3 334L266 336"/>
<path class="m" d="M242 340L266 341.3"/>
<path class="o" d="M244 348.7L262.7 350"/>
<path class="o" d="M249.3 374.7L270 375.3"/>
<path class="m" d="M255.3 376.7L262 388.7L275.3 389.3"/>
<path class="m" d="M262 388.7L267.3 402.7L280.7 403.3"/>
<path class="o" d="M260.7 390L276.7 390.7"/>
<path class="o" d="M314 330L327.3 356.7L322 358.3" style="stroke-width:3"/>
<path class="o" d="M318 344.7L315.3 346L321.3 360"/>
<path class="o" d="M322 360L327.3 380.7L321.3 382.3" style="stroke-width:3"/>
<path class="o" d="M323.3 370L324.7 380.7"/>
<path class="o" d="M320 383.3L327.3 388.7" style="stroke-width:3"/>
<path class="o" d="M298 336L310 335.3L315.3 344.7"/>
<path class="o" d="M296.7 338L302 336.7L308.7 354L304 360"/>
<path class="m" d="M304.7 336L312.7 356.7"/>
<path class="m" d="M310 335.3L319.3 356.7L321.3 360"/>
<path class="o" d="M294.7 350L292.7 367.3L298.7 368L300.7 360.7"/>
<path class="o" d="M297.3 348.7L298.7 360.7" style="stroke-width:4.5"/>
<path class="o" d="M300.7 360.7L308.7 366L318 366"/>
<path class="m" d="M292.7 367.3L288.7 382"/>
<path class="m" d="M302 368.7L300 380.7"/>
<path class="o" d="M303.3 368.7L314 369.3L319.3 382"/>
<path class="o" d="M303.3 368.7L302.7 381.3L307.3 391.3"/>
<path class="o" d="M288.7 382L302.7 381.3"/>
<path class="m" d="M314 369.3L308.7 366"/>
<path class="m" d="M307.3 391.3L315.3 396.7"/>
<path class="o" d="M302.7 381.3L315.3 396.7L314 407.3"/>
<path class="m" d="M314 384.7L319.3 382"/>
<path class="o" d="M317.3 388.7L326 389.3" style="stroke-width:3.6"/>
<path class="o" d="M316.7 394L326 394.3"/>
<path class="o" d="M315.3 399.3L325.3 399.3"/>
<path class="o" d="M314 407.3L324.7 406.7"/>
<path class="o" d="M314 407.3L308.7 426L322 426.7"/>
<path class="m" d="M317.3 399.3L315.3 426"/>
<path class="m" d="M321.3 399.3L320 426"/>
<path class="m" d="M307.3 404.7L310 410"/>
<path class="m" d="M302 410L308.7 426"/>
<ellipse class="k" cx="292.3" cy="346.9" rx="1.9" ry="2.9"/>
<path class="o" d="M274 343.3L280.7 344.7L282 351.3L275.3 350" style="stroke-width:3"/>
<path class="o" d="M272.7 354L282 355.3" style="stroke-width:5;stroke-dasharray:3 2"/>
<path class="o" d="M274 358.7L283.3 360.7" style="stroke-width:5;stroke-dasharray:3 2"/>
<path class="o" d="M274.7 363.3L282 364.9" style="stroke-width:3"/>
<path class="o" d="M275.3 368.7L284.7 369.3L286 374" style="stroke-width:3"/>
<ellipse class="k" cx="280.7" cy="371.3" rx="1.9" ry="1.9"/>
<path class="o" d="M278 376.7L282 383.3" style="stroke-width:5;stroke-dasharray:4 2"/>
<path class="o" d="M278 344.7L291.3 367.3" style="stroke-width:3"/>
<path class="o" d="M283.3 354L288.7 364.7"/>
<path class="o" d="M279.3 390L291.3 386L294 388.7L282 392.7L279.3 390"/>
<path class="o" d="M288.7 399.3L300.7 396L302.7 398.7L291.3 402.7L288.7 399.3"/>
<path class="o" d="M286 394L291.3 398" style="stroke-width:4;stroke-dasharray:3 2"/>
<path class="o" d="M292.7 404.7L302 407.3L299.3 415.3" style="stroke-width:4.5;stroke-dasharray:3 2"/>
<path class="o" d="M295.3 408.7L300.7 411.3" style="stroke-width:4;stroke-dasharray:3 2"/>
<path class="m" d="M284.7 383.3L294 383.3L296.7 387.3"/>
<path class="m" d="M296.7 388.7L304.7 399.3"/>
<path class="m" d="M303.3 407.3L300.7 416.7"/>
<path class="o" d="M282.7 332.7L283.3 336" style="stroke-width:3"/>
<path class="l" d="M291 447L291 480"/>

<!-- boards 17, ribbons 18/18A -->
<path class="o" d="M363.9 329.4L367.2 331.3L370 330L378.3 346.1L385.6 350L388.9 357.8L393.3 360.6L395 368.9L397.8 380L393.3 395.6L391.1 411.1L385.6 413.3L385 417.8L372.2 418.3L370 422.8L364.4 407.8L357.8 392.2L353.3 380L359.4 353.3L363.9 329.4" style="stroke-width:3.2"/>
<path class="k" d="M363.9 329.4L367.2 331.3L370 330L378.3 346.1L377.8 349.4L363.3 349.4L362.2 342.2Z"/>
<path class="t" d="M365.3 334.4L364.7 337.8" style="stroke:#fff;stroke-width:1"/>
<path class="t" d="M364.7 343.9L366.1 347.2" style="stroke:#fff;stroke-width:1"/>
<path class="k" d="M360.6 363.3L376.1 363.3L375 373.3L358.9 373.3Z"/>
<path class="m" d="M362.2 350L377.8 350L376.1 363.1L360.6 363.1"/>
<path class="m" d="M361.8 353.3L360 362.2"/>
<rect class="m" x="359" y="375" width="15.5" height="7.2" rx="1.5" style="fill:#fff"/>
<path class="m" d="M357.2 373.3L356.7 382.2"/>
<path class="o" d="M378.3 346.7L376.7 373.3L375.6 397.8"/>
<path class="m" d="M381.7 352.2L380 373.3"/>
<path class="o" d="M388.9 357.8L386.7 382.2L384.4 397.8"/>
<path class="m" d="M385.6 350L381.7 352.2L377.8 350"/>
<path class="m" d="M391.1 362.2L389.4 380"/>
<path class="o" d="M377.2 372.2L380 373.3L386.7 382.2"/>
<path class="m" d="M380 381.1L386.7 380.2"/>
<path class="o" d="M376.7 380L377.8 396.7L384.4 397.8L390 408.9"/>
<path class="o" d="M366.7 383.3L364.4 400L373.3 417.8"/>
<path class="m" d="M368.9 383.6L367.2 397.8"/>
<path class="o" d="M368.9 397.8L377.8 396.7"/>
<path class="m" d="M367.8 400L376.7 415.6L385 415.6"/>
<path class="m" d="M377.8 397.8L384.4 414.4"/>
<path class="m" d="M386.7 397.8L393.3 395.6"/>
<path class="m" d="M390 408.9L391.1 411.1"/>
<path class="m" d="M358.9 383.3L366.7 383.3"/>
<path class="o" d="M444 267.6C444.5 267.3 446.1 265.6 447 265.6C447.9 265.6 449.2 267.3 449.6 267.6C451.3 272.3 457 287.6 460 296C463 304.4 465.3 311.8 467.6 318C469.9 324.2 472.9 330.5 474 333C473.2 336.8 470.6 348.8 469 356C467.4 363.2 465.6 371.1 464.4 376C463.2 380.9 462.1 384 461.6 385.6C460 382.7 455.1 375.3 452 368C448.9 360.7 445.7 349.5 443 342C440.3 334.5 437.2 326.2 436 323C436.5 319.5 438.1 308.5 439 302C439.9 295.5 440.8 289.7 441.6 284C442.4 278.3 443.6 270.3 444 267.6" style="stroke-width:2.8"/>
<path class="t" d="M449 270L471 334L460 382"/>
<path class="o" d="M444 274C442.7 273.8 437.9 272.3 436 273C434.1 273.7 432.8 276.2 432.4 278C432 279.8 432 282.7 433.6 284C435.2 285.3 440.6 285.3 442 285.6"/>
<path class="t" d="M434 284L441 282L442 274"/>
<path class="m" d="M442.4 290C441.3 290 437.4 289.3 436 290C434.6 290.7 434.1 292.5 434 294C433.9 295.5 434.4 298.1 435.6 299C436.8 299.9 440.1 299.5 441 299.6"/>
<path class="o" d="M440 302C438.9 302.1 435 301.9 433.6 302.4C432.2 302.9 431.5 304.1 431.6 305C431.7 305.9 432.8 307.6 434 308C435.2 308.4 438.2 307.7 439 307.6"/>
<path class="o" d="M436 310C435.9 311.3 435.2 315.8 435.2 318C435.2 320.2 435.9 322.2 436 323"/>
<path class="o" d="M436 329C435.4 329.3 433.1 329.5 432.4 331C431.7 332.5 431.6 335.8 432 338C432.4 340.2 433.2 342.8 435 344C436.8 345.2 441.7 344.8 443 345"/>
<path class="m" d="M435 338L444 337"/>
<path class="m" d="M434 344L436 348L445 348"/>
<path class="t" d="M436 330L444 330"/>
<path class="o" d="M449 360C448.1 360.2 444.6 360 443.6 361C442.6 362 442.3 364.9 443 366C443.7 367.1 446.5 367.4 448 367.6C449.5 367.8 451.3 367.1 452 367"/>
<path class="t" d="M445 363.6L451 363.2"/>
<path class="m" d="M446 298C446.3 298.7 448 300.8 448 302C448 303.2 445.7 304.3 446 305C446.3 305.7 448.8 305.2 449.6 306C450.4 306.8 451.1 308.8 451 310C450.9 311.2 448.8 312.3 449 313C449.2 313.7 451.2 313.2 452 314C452.8 314.8 453.6 316.8 453.6 318C453.6 319.2 452.3 320.5 452 321" style="stroke-dasharray:4 3;stroke-width:2.4"/>
<path class="o" d="M449 280L452 288" style="stroke-dasharray:3 2;stroke-width:3"/>
<ellipse class="k" cx="455" cy="349.4" rx="0.8" ry="1.6"/>
<ellipse class="k" cx="462.4" cy="362.4" rx="0.7" ry="1.4"/>
<path class="m" d="M452 267.6L462 257L478 293L469 303.4L452 267.6"/>
<path class="t" d="M455 265L471.6 300.4"/>
<path class="h" d="M452.8 268.4L460.4 260.4" style="stroke-width:1.1"/>
<path class="h" d="M454 270.8L461.6 262.8" style="stroke-width:1.1"/>
<path class="h" d="M455.2 273.2L462.8 265.2" style="stroke-width:1.1"/>
<path class="h" d="M456.4 275.6L464 267.6" style="stroke-width:1.1"/>
<path class="h" d="M457.6 278.2L465.2 270.2" style="stroke-width:1.1"/>
<path class="h" d="M458.8 280.6L466.4 272.6" style="stroke-width:1.1"/>
<path class="h" d="M460 283L467.6 275" style="stroke-width:1.1"/>
<path class="h" d="M461.2 285.4L468.8 277.4" style="stroke-width:1.1"/>
<path class="h" d="M462.4 287.8L470 279.8" style="stroke-width:1.1"/>
<path class="h" d="M463.6 290.2L471.2 282.2" style="stroke-width:1.1"/>
<path class="h" d="M464.8 292.6L472.4 284.6" style="stroke-width:1.1"/>
<path class="h" d="M466 295.2L473.6 287.2" style="stroke-width:1.1"/>
<path class="h" d="M467.2 297.6L474.8 289.6" style="stroke-width:1.1"/>
<path class="h" d="M468.4 300L476 292" style="stroke-width:1.1"/>
<path class="h" d="M469.6 302.4L477.2 294.4" style="stroke-width:1.1"/>
<path class="t" d="M462.4 257.6C463.5 256 467.5 251.9 469 248C470.5 244.1 471.1 238.7 471.4 234C471.7 229.3 470.7 223.7 471 220C471.3 216.3 471.8 214.3 473 212C474.2 209.7 477.5 207.3 478.4 206.4"/>
<path class="t" d="M463.8 260.8C464.9 259.1 469 254.7 470.5 250.7C472 246.7 472.5 241.5 472.8 236.9C473.1 232.3 472 226.7 472.2 223.1C472.4 219.5 472.9 217.5 474.1 215.3C475.3 213 478.6 210.5 479.5 209.6"/>
<path class="t" d="M465.2 263.9C466.3 262.2 470.4 257.5 471.9 253.5C473.4 249.4 474 244.4 474.2 239.8C474.5 235.3 473.3 229.7 473.4 226.2C473.6 222.6 474 220.8 475.2 218.5C476.4 216.3 479.8 213.8 480.7 212.8"/>
<path class="t" d="M466.5 267.1C467.7 265.3 471.8 260.2 473.4 256.2C474.9 252.1 475.4 247.2 475.7 242.7C475.9 238.2 474.6 232.8 474.7 229.3C474.8 225.8 475.1 224 476.3 221.8C477.5 219.6 480.9 217 481.8 216"/>
<path class="t" d="M467.9 270.3C469.1 268.4 473.3 263 474.8 258.9C476.3 254.8 476.9 250.1 477.1 245.6C477.3 241.2 475.8 235.8 475.9 232.4C475.9 228.9 476.2 227.3 477.4 225.1C478.5 222.9 482 220.2 483 219.2"/>
<path class="t" d="M469.3 273.4C470.5 271.5 474.7 265.8 476.3 261.6C477.8 257.5 478.4 252.9 478.5 248.5C478.6 244.2 477.1 238.8 477.1 235.5C477.1 232.1 477.3 230.5 478.5 228.4C479.6 226.2 483.2 223.4 484.1 222.4"/>
<path class="t" d="M470.7 276.6C471.9 274.5 476.2 268.5 477.7 264.4C479.3 260.2 479.8 255.8 479.9 251.5C480 247.2 478.4 241.8 478.3 238.5C478.2 235.2 478.4 233.8 479.5 231.6C480.7 229.5 484.3 226.6 485.3 225.6"/>
<path class="t" d="M472.1 279.7C473.3 277.6 477.6 271.3 479.2 267.1C480.7 262.9 481.3 258.6 481.3 254.4C481.4 250.1 479.6 244.9 479.5 241.6C479.4 238.4 479.5 237 480.6 234.9C481.8 232.8 485.5 229.8 486.4 228.8"/>
<path class="t" d="M473.5 282.9C474.7 280.7 479.1 274.1 480.6 269.8C482.2 265.6 482.7 261.5 482.7 257.3C482.8 253.1 480.9 247.9 480.7 244.7C480.6 241.5 480.6 240.3 481.7 238.2C482.9 236.1 486.6 233 487.6 232"/>
<path class="t" d="M474.8 286.1C476.1 283.8 480.5 276.9 482.1 272.5C483.7 268.2 484.2 264.3 484.2 260.2C484.1 256.1 482.2 250.9 482 247.8C481.7 244.7 481.7 243.6 482.8 241.5C483.9 239.4 487.7 236.2 488.7 235.2"/>
<path class="t" d="M476.2 289.2C477.4 286.9 482 279.6 483.5 275.3C485.1 270.9 485.6 267.2 485.6 263.1C485.5 259 483.5 254 483.2 250.9C482.9 247.8 482.8 246.8 483.9 244.7C485 242.6 488.9 239.5 489.9 238.4"/>
<path class="t" d="M477.6 292.4C478.8 290 483.4 282.4 485 278C486.6 273.6 487.1 270 487 266C486.9 262 484.7 257 484.4 254C484.1 251 483.9 250.1 485 248C486.1 245.9 490 242.7 491 241.6"/>
<path class="l" d="M405 309L380 341"/>
<path class="l" d="M409 309L434 323"/>
<path class="l" d="M452 236.4L458 259"/>
<path class="m" d="M451 148L460 140L472 165L464 174.4L451 148"/>
<path class="t" d="M453.6 145.6L466.4 171.6"/>
<path class="h" d="M451.6 148.8L458.4 142.4" style="stroke-width:1.1"/>
<path class="h" d="M452.6 150.8L459.4 144.4" style="stroke-width:1.1"/>
<path class="h" d="M453.6 152.6L460.4 146.2" style="stroke-width:1.1"/>
<path class="h" d="M454.6 154.6L461.4 148.2" style="stroke-width:1.1"/>
<path class="h" d="M455.6 156.4L462.4 150" style="stroke-width:1.1"/>
<path class="h" d="M456.6 158.4L463.4 152" style="stroke-width:1.1"/>
<path class="h" d="M457.6 160.2L464.4 153.8" style="stroke-width:1.1"/>
<path class="h" d="M458.4 162.2L465.2 155.8" style="stroke-width:1.1"/>
<path class="h" d="M459.4 164L466.2 157.6" style="stroke-width:1.1"/>
<path class="h" d="M460.4 166L467.2 159.6" style="stroke-width:1.1"/>
<path class="h" d="M461.4 167.8L468.2 161.4" style="stroke-width:1.1"/>
<path class="h" d="M462.4 169.8L469.2 163.4" style="stroke-width:1.1"/>
<path class="h" d="M463.4 171.6L470.2 165.2" style="stroke-width:1.1"/>
<path class="h" d="M464.4 173.6L471.2 167.2" style="stroke-width:1.1"/>
<path class="t" d="M460.4 140.4C461.2 138.7 464 133.7 465 130C466 126.3 466.2 121.7 466.4 118C466.6 114.3 465.6 110.7 466.4 108C467.2 105.3 470.2 102.7 471 101.6"/>
<path class="t" d="M461.4 142.6C462.2 140.8 465.1 135.8 466.1 132C467.1 128.2 467.3 123.6 467.5 120C467.7 116.4 466.5 112.8 467.3 110.2C468 107.5 471.1 105.1 471.9 104"/>
<path class="t" d="M462.4 144.8C463.2 143 466.2 137.8 467.2 134C468.2 130.2 468.3 125.6 468.5 122C468.7 118.4 467.4 114.9 468.1 112.4C468.9 109.8 472 107.5 472.8 106.5"/>
<path class="t" d="M463.5 146.9C464.3 145.1 467.3 139.8 468.3 136C469.3 132.2 469.4 127.6 469.6 124C469.7 120.4 468.3 117.1 469 114.5C469.7 112 472.9 109.8 473.7 108.9"/>
<path class="t" d="M464.5 149.1C465.3 147.3 468.3 141.9 469.4 138C470.4 134.1 470.5 129.5 470.6 126C470.7 122.5 469.2 119.2 469.9 116.7C470.6 114.3 473.8 112.2 474.6 111.3"/>
<path class="t" d="M465.5 151.3C466.3 149.4 469.4 143.9 470.5 140C471.5 136.1 471.6 131.5 471.7 128C471.7 124.5 470.1 121.3 470.8 118.9C471.4 116.5 474.7 114.6 475.5 113.8"/>
<path class="t" d="M466.5 153.5C467.3 151.6 470.5 145.9 471.5 142C472.6 138.1 472.7 133.5 472.7 130C472.7 126.5 471 123.4 471.6 121.1C472.3 118.8 475.7 117 476.5 116.2"/>
<path class="t" d="M467.5 155.7C468.4 153.7 471.6 147.9 472.6 144C473.7 140.1 473.8 135.5 473.8 132C473.8 128.5 471.9 125.5 472.5 123.3C473.1 121.1 476.6 119.4 477.4 118.7"/>
<path class="t" d="M468.5 157.9C469.4 155.9 472.7 150 473.7 146C474.8 142 474.9 137.4 474.8 134C474.8 130.6 472.8 127.6 473.4 125.5C474 123.3 477.5 121.8 478.3 121.1"/>
<path class="t" d="M469.6 160C470.4 158 473.8 152 474.8 148C475.9 144 476 139.4 475.9 136C475.8 132.6 473.7 129.7 474.3 127.6C474.8 125.6 478.4 124.2 479.2 123.5"/>
<path class="t" d="M470.6 162.2C471.5 160.2 474.8 154 475.9 150C477 146 477.1 141.4 476.9 138C476.8 134.6 474.6 131.8 475.1 129.8C475.6 127.8 479.3 126.6 480.1 126"/>
<path class="t" d="M471.6 164.4C472.5 162.3 475.9 156.1 477 152C478.1 147.9 478.2 143.3 478 140C477.8 136.7 475.5 133.9 476 132C476.5 130.1 480.2 129 481 128.4"/>
<path class="l" d="M439.6 119.6L457 140.4"/>

<!-- cable 4 -->
<path class="o" d="M522.7 56.7C525.6 57.9 534.7 61.1 540 64C545.3 66.9 550.2 70.3 554.7 74C559.1 77.7 563.1 82 566.7 86C570.2 90 573.1 93.9 576 98C578.9 102.1 582.9 108.3 584.3 110.4" style="stroke-width:2.8"/>
<path class="o" d="M520 63.3C522.7 64.7 530.9 68 536 71.3C541.1 74.7 546.2 79.3 550.7 83.3C555.1 87.3 559.1 91.3 562.7 95.3C566.2 99.3 569.2 103.1 572 107.3C574.8 111.6 578.1 118.7 579.3 120.9" style="stroke-width:2.8"/>
<path class="o" d="M584.3 110.4L580 112L581.3 115.3L579.3 120.9"/>
<path class="o" d="M582.4 123.3C582.6 122.8 582.6 120.8 583.3 120C584 119.2 585.1 118.4 586.7 118.7C588.2 118.9 591.7 120.9 592.7 121.3C594.3 124.3 599.7 133.2 602.7 139.3C605.7 145.4 608 151.3 610.7 158C613.3 164.7 616.2 172 618.7 179.3C621.1 186.7 623.4 194.7 625.3 202C627.3 209.3 629.2 217.4 630.4 223.3C631.6 229.2 632.3 235 632.7 237.3" style="stroke-width:2.8"/>
<path class="o" d="M582.4 123.3C583.8 125.7 588 132.3 590.7 137.3C593.4 142.3 596 147.2 598.7 153.3C601.3 159.4 604.1 166.6 606.7 174C609.2 181.4 611.9 190.2 614 198C616.1 205.8 618 214.1 619.3 220.7C620.7 227.2 621.6 234.6 622 237.3" style="stroke-width:2.8"/>
<path class="o" d="M500 55.3C500.2 54.1 500.7 49.5 501.3 48C502 46.5 502.9 46.5 504 46.3C505.1 46 505.2 45.6 508 46.7C510.8 47.7 518.2 51.2 520.7 52.7C523.1 54.1 522.4 54.3 522.7 55.3C523 56.3 522.8 57.2 522.4 58.7C522 60.2 520.8 63.2 520 64.4C519.2 65.6 518.3 65.8 517.3 66C516.3 66.2 516.6 66.7 514 65.7C511.4 64.7 504.3 61.4 502 60C499.7 58.6 500.3 58.1 500 57.3C499.7 56.6 500 55.7 500 55.3" style="stroke-width:2.8"/>
<path class="m" d="M505.3 50L518.7 56L516 62.7L503.3 56.7L505.3 50"/>
<path class="o" d="M502 48.7L494.4 44.9L493.3 47.3L501.1 51.3"/>
<path class="o" d="M500.7 54.7L493.3 51.1L492.7 53.7L500 57.3"/>
<path class="l" d="M573 99.6L600 99.6"/>

<!-- chassis -->
<path class="o" d="M575 254C575 252.2 574.7 245.5 575 243C575.3 240.5 576 239.9 577 239C578 238.1 580.3 237.8 581 237.6L781 237.6C781.7 237.9 784 238.7 785 239.6C786 240.5 786.7 242.4 787 243" style="stroke-width:3"/>
<path class="o" d="M579 248L780 248" style="stroke-width:2.1"/>
<path class="m" d="M579 248L576 250"/>
<path class="m" d="M780 248L781 239"/>
<path class="o" d="M575 254L580 271L585 272.4L586.4 265"/>
<path class="t" d="M579 249L585 267"/>
<path class="o" d="M588 264.4L617 337" style="stroke-width:3"/>
<ellipse class="k" cx="589" cy="264.4" rx="1.4" ry="1.2"/>
<ellipse class="k" cx="617" cy="336.6" rx="1.4" ry="1.2"/>
<path class="o" d="M616.6 338L613 340.4L613 350L621 369L625 374.4"/>
<path class="m" d="M616.6 340L620 358L625 364"/>
<path class="t" d="M616 344L619 356"/>
<path class="t" d="M614 348L620 362"/>
<path class="o" d="M626 362.4L679.6 362.4"/>
<path class="o" d="M679.6 361.2L680 373L678.4 375L627 375C626.6 374.5 624.9 373 624.4 372C623.9 371 623.7 370.6 624 369C624.3 367.4 625.7 363.5 626 362.4" style="stroke-width:3"/>
<ellipse class="m" cx="631" cy="368.2" rx="2.2" ry="2.2"/>
<ellipse class="k" cx="631" cy="368.2" rx="1" ry="1"/>
<ellipse class="m" cx="642" cy="368.2" rx="2.2" ry="2.2"/>
<ellipse class="k" cx="642" cy="368.2" rx="1" ry="1"/>
<path class="t" d="M649 367.4L654.4 367L654 371L648.6 371.4L649 367.4"/>
<path class="o" d="M680 362.8L775.6 362.8" style="stroke-width:3"/>
<ellipse class="m" cx="582.4" cy="243" rx="1.8" ry="1.6"/>
<ellipse class="m" cx="594" cy="243" rx="1.8" ry="1.6"/>
<path class="t" d="M600.6 241.6L606 241.6L605.6 246L600 246L600.6 241.6"/>
<ellipse class="k" cx="678.6" cy="243.6" rx="1.6" ry="1.4"/>
<path class="t" d="M751.6 242.4L757 242.4L756.6 246.8L751.2 246.8L751.6 242.4"/>
<ellipse class="m" cx="763.6" cy="244" rx="1.8" ry="1.6"/>
<ellipse class="m" cx="775" cy="244" rx="1.8" ry="1.6"/>
<path class="t" d="M620 249L660 353" style="stroke-width:1.4"/>
<path class="m" d="M627.2 249L668.8 351.4" style="stroke-width:2"/>
<path class="t" d="M623.2 249L663.6 352.6"/>
<path class="m" d="M660 353C660.3 353.4 660.9 354.9 661.6 355.4C662.3 355.9 663.2 356.3 664.3 356.2C665.5 356.1 667.7 355.4 668.4 354.6C669.1 353.8 668.7 351.9 668.8 351.4"/>
<path class="t" d="M658 249L675.6 295.6" style="stroke-width:1.4"/>
<path class="m" d="M664.8 249L684 294" style="stroke-width:2"/>
<path class="t" d="M661.1 249L679 295.2"/>
<path class="m" d="M675.6 295.6C675.9 296 676.5 297.5 677.2 298C677.9 298.5 678.6 298.9 679.7 298.8C680.7 298.7 682.9 298 683.6 297.2C684.3 296.4 683.9 294.5 684 294"/>
<path class="t" d="M703 249L720.6 295.6" style="stroke-width:1.4"/>
<path class="m" d="M709.8 249L729 294" style="stroke-width:2"/>
<path class="t" d="M706.1 249L724 295.2"/>
<path class="m" d="M720.6 295.6C720.9 296 721.5 297.5 722.2 298C722.9 298.5 723.6 298.9 724.7 298.8C725.7 298.7 727.9 298 728.6 297.2C729.3 296.4 728.9 294.5 729 294"/>
<path class="t" d="M740 249L778.4 354.4" style="stroke-width:1.4"/>
<path class="m" d="M747.2 249L787.2 352.8" style="stroke-width:2"/>
<path class="t" d="M743.2 249L782 354"/>
<path class="m" d="M778.4 354.4C778.7 354.8 779.3 356.3 780 356.8C780.7 357.3 781.6 357.7 782.7 357.6C783.9 357.5 786.1 356.8 786.8 356C787.5 355.2 787.1 353.3 787.2 352.8"/>
<ellipse class="m" cx="714.4" cy="327.4" rx="31.4" ry="18" transform="rotate(8 714.4 327.4)" style="stroke-width:1.7"/>
<ellipse class="m" cx="644" cy="348" rx="9.4" ry="6" transform="rotate(5 644 348)" style="stroke-width:1.5"/>
<path class="t" d="M642 353.6L643 355.4L648 355.4L649 353.6"/>
<path class="t" d="M639 268.4L647 268L648.4 275.6L640.4 276L639 268.4"/>
<ellipse class="k" cx="609.6" cy="272.4" rx="1.8" ry="1"/>
<ellipse class="k" cx="665" cy="323.6" rx="1.8" ry="1"/>
<ellipse class="k" cx="778" cy="280.4" rx="1.8" ry="1"/>
<ellipse class="k" cx="789" cy="293" rx="1.8" ry="1"/>
<path class="o" d="M781 237.6C781.7 237.8 784 238.2 785 239C786 239.8 786.7 241.8 787 242.4L795 261.4" style="stroke-width:3"/>
<path class="o" d="M795 261.4L802 252.4L805 254.4L824 305L823 336.4L820 338.4L831 360.4L830 370.4L827 374.4L776 374.4L775 363.2" style="stroke-width:3"/>
<path class="o" d="M780 248L788.4 271L793 273L794.4 263"/>
<path class="t" d="M784 243L791 263"/>
<path class="m" d="M795 261.4L820 337.6"/>
<path class="t" d="M799 258L821.6 324"/>
<path class="o" d="M776 363.2L826 363.2"/>
<path class="m" d="M820 344L826.4 361L826 374"/>
<path class="t" d="M822.4 348L828 361"/>
<ellipse class="m" cx="802" cy="263" rx="1.4" ry="3" transform="rotate(12 802 263)"/>
<ellipse class="m" cx="806.4" cy="274" rx="1.4" ry="3" transform="rotate(12 806.4 274)"/>
<ellipse class="m" cx="811.6" cy="287" rx="1.4" ry="3" transform="rotate(12 811.6 287)"/>
<ellipse class="m" cx="816.4" cy="300" rx="1.4" ry="3" transform="rotate(12 816.4 300)"/>
<ellipse class="m" cx="820.6" cy="311" rx="1.4" ry="3" transform="rotate(12 820.6 311)"/>
<path class="t" d="M800.6 368L805.6 367.6L805.2 372L800 372.4L800.6 368"/>
<ellipse class="m" cx="811.6" cy="369" rx="2.2" ry="2.2"/>
<ellipse class="k" cx="811.6" cy="369" rx="1" ry="1"/>
<ellipse class="m" cx="823" cy="369" rx="2.2" ry="2.2"/>
<ellipse class="k" cx="823" cy="369" rx="1" ry="1"/>

<!-- parts 1,2,3 -->
<path class="o" d="M740.6 26L810 28.4L817 41L814.4 51L812.4 53L813 62.4L808 69.2L796 68L795 71.6L761 69.4L757 66L742 67L740 59L733.6 57L737 42L748 41L752.4 34.4L740 33L740.6 26"/>
<path class="m" d="M746 56.4L789 59L796 68"/>
<path class="m" d="M746 56.4L757 66"/>
<path class="m" d="M740 59L746 56.4"/>
<path class="m" d="M789 59L793 57.6L802 58L805 50L812 53"/>
<path class="m" d="M792 36L806 36L811.6 44.4"/>
<path class="m" d="M792 36L791 43L802.4 44.4L806 36"/>
<path class="t" d="M791 43L795 40L805 40.4"/>
<path class="t" d="M806 36L809 29"/>
<path class="t" d="M748 41L750 37"/>
<path class="t" d="M802 44.4L806 51"/>
<ellipse class="m" cx="758.6" cy="60.4" rx="1.8" ry="1.2"/>
<ellipse class="m" cx="782.4" cy="61.6" rx="1.8" ry="1.2"/>
<ellipse class="m" cx="786.6" cy="67" rx="1.8" ry="1.2"/>
<path class="l" d="M805 58.4L837 58.4"/>
<path class="o" d="M719 168.4L719.4 166.7L720 165.2L720.8 163.6L721.8 162.2L722.9 160.8L724.2 159.5L725.7 158.2L727.4 157.1L729.2 156.1L731.1 155.2L733.2 154.4L735.3 153.7L737.6 153.2L740 152.8L742.4 152.5L744.9 152.3L747.4 152.3L749.9 152.4L752.5 152.7L755 153.1L757.6 153.6L760 154.2L762.5 155L764.8 155.8L767.1 156.8L769.3 157.9L771.4 159.1L773.3 160.4L775.1 161.8L776.8 163.2L778.3 164.7L779.6 166.3L780.8 167.9L781.8 169.6L782.6 171.3L783.2 173L783.6 174.7L783.8 176.4L783.8 178.1L783.6 179.8L783.6 183.8L783.2 185.4L782.7 187L781.9 188.5L780.9 190L779.8 191.4L778.4 192.7L776.9 193.9L775.3 195L773.5 196L771.6 196.9L769.5 197.7L767.3 198.4L765.1 199L762.7 199.4L760.3 199.7L757.8 199.8L755.3 199.8L752.7 199.7L750.2 199.5L747.6 199.1L745.1 198.6L742.6 197.9L740.2 197.2L737.8 196.3L735.5 195.3L733.4 194.2L731.3 193L729.3 191.7L727.5 190.3L725.9 188.9L724.4 187.4L723 185.8L721.9 184.2L720.9 182.5L720.1 180.8L719.5 179.1L719.1 177.4L718.9 175.7L718.8 174L719 172.4Z" style="fill:#fff;stroke-width:2.4"/>
<path class="o" d="M783.2 181.2L783.5 188" style="stroke-width:2.7"/>
<path class="o" d="M781.6 189.4L781.4 183.9" style="stroke-width:3"/>
<path class="o" d="M779 192.5L778.9 187" style="stroke-width:3"/>
<path class="o" d="M775.7 195.2L775.5 189.7" style="stroke-width:3"/>
<path class="o" d="M771.6 197.3L771.4 191.9" style="stroke-width:3"/>
<path class="o" d="M766.8 198.9L766.7 193.5" style="stroke-width:3"/>
<path class="o" d="M761.6 199.9L761.5 194.5" style="stroke-width:3"/>
<path class="o" d="M756.1 200.2L756 194.8" style="stroke-width:3"/>
<path class="o" d="M750.5 199.9L750.3 194.4" style="stroke-width:3"/>
<path class="o" d="M744.8 198.9L744.7 193.4" style="stroke-width:3"/>
<path class="o" d="M739.4 197.3L739.3 191.8" style="stroke-width:3"/>
<path class="o" d="M734.3 195.1L734.2 189.6" style="stroke-width:3"/>
<path class="o" d="M729.8 192.4L729.6 186.9" style="stroke-width:3"/>
<path class="o" d="M725.9 189.3L725.7 183.8" style="stroke-width:3"/>
<path class="o" d="M722.7 185.9L722.6 180.4" style="stroke-width:3"/>
<path class="o" d="M720.5 182.2L720.4 176.7" style="stroke-width:3"/>
<path class="o" d="M719.2 178.4L719 172.9" style="stroke-width:3"/>
<path class="o" d="M718.8 169.8L719.1 176.6" style="stroke-width:2.7"/>
<path class="o" d="M719.5 166.2L719.7 173" style="stroke-width:2.7"/>
<path class="o" d="M721.1 162.7L721.4 169.5" style="stroke-width:2.7"/>
<path class="o" d="M723.6 159.6L723.9 168.3" style="stroke-width:2.7"/>
<path class="o" d="M727 156.9L727.3 165.6" style="stroke-width:2.7"/>
<path class="o" d="M731.1 154.8L731.4 163.5" style="stroke-width:2.7"/>
<path class="o" d="M735.8 153.2L736.1 161.9" style="stroke-width:2.7"/>
<path class="o" d="M741 152.2L741.3 160.9" style="stroke-width:2.7"/>
<path class="o" d="M746.5 151.9L746.8 160.6" style="stroke-width:2.7"/>
<path class="o" d="M752.2 152.2L752.5 160.9" style="stroke-width:2.7"/>
<path class="o" d="M757.8 153.2L758.1 161.9" style="stroke-width:2.7"/>
<path class="o" d="M763.3 154.9L763.5 163.5" style="stroke-width:2.7"/>
<path class="o" d="M768.3 157L768.6 165.7" style="stroke-width:2.7"/>
<path class="o" d="M772.9 159.7L773.2 168.4" style="stroke-width:2.7"/>
<path class="o" d="M776.8 162.8L777.1 171.5" style="stroke-width:2.7"/>
<path class="o" d="M779.9 166.3L780.2 174.9" style="stroke-width:2.7"/>
<path class="o" d="M782.2 169.9L782.4 178.6" style="stroke-width:2.7"/>
<path class="o" d="M783.5 173.7L783.8 180.5" style="stroke-width:2.7"/>
<path class="o" d="M783.8 177.5L784.1 184.3" style="stroke-width:2.7"/>
<path class="m" d="M782.8 175.3C782.8 175.7 782.9 176.9 782.8 177.7C782.7 178.5 782.5 179.2 782.3 180C782.1 180.8 781.8 181.5 781.4 182.2C781.1 183 780.7 183.7 780.2 184.4C779.7 185 779.1 185.7 778.5 186.3C777.9 187 777.2 187.6 776.5 188.1C775.8 188.7 775 189.2 774.1 189.7C773.3 190.2 772.4 190.7 771.5 191.1C770.5 191.5 769.5 191.9 768.5 192.2C767.5 192.6 766.5 192.9 765.4 193.1C764.3 193.4 763.2 193.6 762 193.7C760.9 193.9 759.7 194 758.6 194C757.4 194.1 756.2 194.1 755 194.1C753.8 194.1 752.6 194 751.4 193.9C750.2 193.8 748.9 193.6 747.7 193.4C746.5 193.2 745.3 192.9 744.2 192.6C743 192.3 741.8 192 740.7 191.6C739.5 191.2 738.4 190.8 737.3 190.3C736.3 189.8 735.2 189.3 734.2 188.8C733.2 188.3 732.2 187.7 731.3 187.1C730.3 186.5 729.4 185.8 728.6 185.2C727.7 184.5 727 183.8 726.2 183.1C725.5 182.4 724.8 181.7 724.2 180.9C723.6 180.2 723 179.4 722.5 178.6C722 177.8 721.6 177 721.3 176.2C720.9 175.4 720.6 174.6 720.4 173.8C720.1 173 720 172.2 719.9 171.4C719.8 170.6 719.8 169.8 719.8 169C719.9 168.2 720 167.4 720.2 166.6C720.4 165.9 720.8 164.7 720.9 164.4"/>
<ellipse class="o" cx="750" cy="177.3" rx="22.4" ry="12.8" transform="rotate(10 750 177.3)" style="fill:#fff;stroke-width:2.2"/>
<ellipse class="t" cx="750" cy="177.7" rx="20" ry="10.9" transform="rotate(10 750 177.7)"/>
<ellipse class="m" cx="750.4" cy="175.7" rx="10.4" ry="5.6" transform="rotate(8 750.4 175.7)"/>
<ellipse class="t" cx="750.4" cy="176.5" rx="8" ry="4" transform="rotate(8 750.4 176.5)"/>
<path class="w" d="M743 178L742 197L738.5 200L739 214L748 214L748.5 201L754 198L755 179Z"/>
<path class="o" d="M743 177L742 197L738.5 200L738.5 212"/>
<path class="o" d="M738.5 212C738.9 212.7 739.8 215.3 741 216C742.2 216.7 744.8 216.5 746 216C747.2 215.5 748.1 213.5 748.5 213"/>
<path class="o" d="M755.5 179L754.5 198L748.5 202L748.5 213"/>
<path class="t" d="M746 180L745.5 199"/>
<path class="t" d="M742 197L748 199L754.5 198"/>
<ellipse class="o" cx="761.4" cy="127" rx="49.2" ry="27.6" transform="rotate(12 761.4 127)" style="fill:#fff"/>
<ellipse class="m" cx="761" cy="130" rx="33" ry="18.4" transform="rotate(12 761 130)"/>
<ellipse class="t" cx="761" cy="130.6" rx="30" ry="16.4" transform="rotate(12 761 130.6)"/>
<ellipse class="m" cx="762" cy="128.4" rx="25.6" ry="13.2" transform="rotate(12 762 128.4)"/>
<path class="t" d="M740 138C741.7 138.9 746 142.4 750 143.6C754 144.8 759.3 145.3 764 145C768.7 144.7 774.3 143.5 778 142C781.7 140.5 784.7 137 786 136"/>
<path class="k" d="M749 97.5C755 94 768 93.5 775 96.5L781 103.5C772 100 758 100 749 97.5Z"/>
<path class="o" d="M749 98C750.2 97.6 753.2 96.1 756 95.6C758.8 95.1 763 94.9 766 95.2C769 95.5 771.7 96.3 774 97.6C776.3 98.9 779 102.1 780 103"/>
<path class="m" d="M780 103C781.3 103.8 785.3 106.2 788 108C790.7 109.8 794.7 113 796 114"/>
<ellipse class="k" cx="762" cy="119.6" rx="11" ry="6" transform="rotate(8 762 119.6)"/>
<ellipse class="w" cx="761" cy="123.2" rx="6" ry="3" transform="rotate(8 761 123.2)" style="stroke:#1a1a1a;stroke-width:1.5"/>
<path class="w" d="M755.5 124.5L751.5 152L764.5 153.5L768.5 126Z"/>
<path class="o" d="M755.4 124.4L751.4 152.4"/>
<path class="o" d="M768 126L764 154"/>
<path class="t" d="M759 125L755.6 153"/>
<path class="k" d="M766.4 132L770 132.4L771.6 135.6L768 136.4"/>
<ellipse class="m" cx="766.4" cy="108" rx="2" ry="1.4"/>
<ellipse class="m" cx="723" cy="117.4" rx="2" ry="1.4"/>
<ellipse class="m" cx="789.6" cy="118" rx="2" ry="1.4"/>
<ellipse class="m" cx="799.4" cy="129" rx="2" ry="1.4"/>
<ellipse class="m" cx="749" cy="148" rx="2" ry="1.4"/>
<ellipse class="m" cx="770" cy="152" rx="2" ry="1.4"/>
<path class="l" d="M798.4 120.4L830 120.4"/>
<path class="d" d="M721.6 120.5L718 139"/>
<path class="d" d="M783.3 148.4L781 158"/>
<path class="l" d="M783 177.6L805 173"/>

<!-- panel 5 -->
<path class="o" d="M897.3 253C897.5 252.2 897.7 249.7 898.1 248.3C898.5 246.9 899 245.5 899.7 244.6C900.5 243.7 901.1 242.7 902.7 243C904.3 243.3 907.5 245 909.3 246.3C911.2 247.6 912.6 249.1 913.6 250.7C914.6 252.4 915 255.4 915.3 256.3" style="stroke-width:3"/>
<path class="o" d="M901.6 245.4L902.1 252.6"/>
<path class="t" d="M902.7 243C903.3 243.8 905.1 245.9 906.7 247.7C908.2 249.4 911.1 252.7 912 253.7"/>
<path class="o" d="M879.3 268.6C879.6 267.9 879.8 266.1 880.7 264.6C881.6 263.1 883 261.2 884.7 259.7C886.3 258.2 888.6 256.8 890.7 255.7C892.8 254.6 896.2 253.4 897.3 253" style="stroke-width:3"/>
<path class="o" d="M915.3 256.3C916.1 257.4 918.7 260.1 920 263C921.3 265.9 922.8 271.9 923.3 273.7" style="stroke-width:3"/>
<path class="o" d="M879.7 268.6C880.9 267.8 884 265 886.7 263.8C889.4 262.6 892.8 261.7 896 261.7C899.2 261.6 904 263.1 905.6 263.4" style="stroke-width:3.6"/>
<path class="o" d="M882.7 281.7C882.9 280.3 883.3 276 884 273.7C884.7 271.3 885.1 269 886.7 267.7C888.2 266.3 890.7 265.7 893.3 265.7C896 265.7 899.8 266.3 902.7 267.7C905.6 269 908.9 271.8 910.7 273.7C912.4 275.6 913.5 277.6 913.1 279C912.6 280.4 910.8 281.3 908 281.9C905.2 282.5 900.2 282.6 896 282.6C891.8 282.6 884.9 282 882.7 281.9" style="stroke-width:3"/>
<path class="t" d="M888 268.3C889.3 268.2 893.3 267.3 896 267.7C898.7 268 901.8 269.1 904 270.3C906.2 271.6 908.3 273.6 909.3 275C910.4 276.4 910.8 278.1 910.4 279C910 279.9 907.3 280.1 906.7 280.3"/>
<path class="m" d="M915.3 256.3C915.9 257.9 917.9 262.6 918.7 265.7C919.4 268.8 920 272.1 920 275C920 277.9 919.2 281 918.7 283C918.1 285 917 286.6 916.7 287.3"/>
<path class="o" d="M923.3 273.7C925 277.2 929.4 286.3 933.3 295C937.2 303.7 942.5 316.8 946.7 325.7C950.8 334.6 956.2 344.6 958.1 348.3" style="stroke-width:3.6"/>
<path class="t" d="M921.6 279.7C923.3 283 928.1 291.6 932 299.7C935.9 307.8 941.2 319.8 945.1 328.3C948.9 336.9 953.3 347.2 954.9 351"/>
<path class="o" d="M913.1 279C913.7 280.3 917.1 284.8 917.1 287C917 289.2 914.7 290.8 912.7 292.3C910.6 293.8 906.5 294.7 904.7 296.1C902.8 297.4 902.1 299.6 901.6 300.3"/>
<path class="m" d="M916.7 287.3C916.1 288.3 914.7 292 913.3 293.7C912 295.4 909.4 296.8 908.7 297.4"/>
<path class="o" d="M871.7 281L884.7 281.7" style="stroke-width:3"/>
<path class="o" d="M873.3 286.6L894.9 287.3" style="stroke-width:3.6"/>
<path class="o" d="M874.4 289.9L895.3 290.2"/>
<path class="o" d="M872 281C871.3 283.1 869.8 287.6 868 293.7C866.2 299.8 863.6 309.7 861.3 317.7C859.1 325.7 856.9 335.8 854.7 341.7C852.4 347.6 849.1 351.1 848 353" style="stroke-width:3"/>
<path class="m" d="M875.3 284.6C874.6 286.8 872.8 291.5 870.9 297.7C869.1 303.8 866.5 313.9 864.3 321.7C862 329.4 858.7 340.6 857.6 344.3"/>
<path class="t" d="M878 284.6C877.3 286.8 875.8 291.5 874 297.7C872.2 303.8 869.5 314 867.3 321.7C865.2 329.3 862.1 340 861.1 343.7"/>
<path class="m" d="M880.7 287.7C880 289.6 877.9 295.1 876.7 299C875.4 302.9 874.4 304.6 873.3 311C872.3 317.4 870.9 333.2 870.4 337.7"/>
<path class="t" d="M884.7 288.3C884 291 881.7 300.8 880.7 304.3C879.7 307.9 879 308.8 878.7 309.7"/>
<path class="t" d="M867.3 303.7L880 304.3"/>
<path class="t" d="M865.3 309.7L878.7 309.9"/>
<path class="o" d="M901.6 300.3C900.9 301.9 898.8 305.4 897.3 309.7C895.8 313.9 894 321 892.7 325.7C891.3 330.4 889.9 335.9 889.3 337.9"/>
<path class="m" d="M889.3 337.9L893.6 338.7"/>
<path class="m" d="M893.6 338.7C894.3 336.8 896.3 331.2 897.6 327C898.9 322.8 900.3 317.9 901.6 313.7C902.9 309.4 904.9 303.7 905.6 301.7"/>
<path class="o" d="M908.7 297.4C908.4 299.4 908.2 305.6 907.3 309.7C906.4 313.7 904 319.7 903.3 321.7"/>
<ellipse class="o" cx="902.7" cy="320.3" rx="1.5" ry="3.2" transform="rotate(8 902.7 320.3)"/>
<path class="t" d="M904 325.7L914.7 348.3"/>
<path class="m" d="M904 309.7L906.7 315"/>
<path class="m" d="M864.7 337.7L886.7 339.7L893.3 349.7"/>
<path class="t" d="M870.7 338.3L871.3 344.3"/>
<path class="o" d="M958 348C958.7 351 960.3 361.3 962 366C963.7 370.7 966.9 373 968 376C969.1 379 968.7 382 968.4 384C968.1 386 966.4 387.3 966 388C967.3 389 971.7 391.7 974 394C976.3 396.3 978.8 399.3 980 402C981.2 404.7 981.7 407.3 981 410C980.3 412.7 978.2 415.7 976 418C973.8 420.3 971 422 968 424C965 426 960.7 427.3 958 430C955.3 432.7 954.3 435.7 952 440C949.7 444.3 946.2 451.3 944 456C941.8 460.7 940 465 939 468C938 471 938.2 473 938 474" style="stroke-width:3"/>
<path class="o" d="M938 474L934 478L912 487L907 484L905 478L896 478L895 472L893 470L895 460L900 461"/>
<path class="o" d="M900 472L934 469L939 468"/>
<path class="m" d="M906 477L910 483"/>
<path class="m" d="M934 469L937 475"/>
<path class="m" d="M908 461L930 459"/>
<path class="m" d="M896 466L900 467"/>
<path class="o" d="M855.6 348C855 347.3 853.3 343 852 344C850.7 345 849 351 848 354C847 357 846.3 360.7 846 362C846.5 363.4 846.7 369.1 849 370.4C851.3 371.7 858.2 370.1 860 370C861.7 372.3 866.3 378.3 870 384C873.7 389.7 878.7 398 882 404C885.3 410 887.7 414 890 420C892.3 426 894.5 433.3 896 440C897.5 446.7 898.3 454.7 899 460C899.7 465.3 899.8 470 900 472"/>
<path class="t" d="M862 371C863.8 373.8 869.2 381.7 873 388C876.8 394.3 881.6 402.3 885 409C888.4 415.7 891.3 421.8 893.6 428C895.9 434.2 897.5 440.3 899 446C900.5 451.7 901.6 457.7 902.4 462C903.2 466.3 903.7 470.3 904 472"/>
<path class="o" d="M846 362L849 352.4L856 351.6"/>
<path class="o" d="M849 370.4L852 364L890 360"/>
<path class="m" d="M852 344L888 338L896 350L890 360"/>
<path class="t" d="M854 346C855 345.5 858.2 342.8 860 343C861.8 343.2 864 345.5 865 347C866 348.5 866.8 350.7 866 352C865.2 353.3 862.2 354.7 860 355C857.8 355.3 854.2 354.2 853 354"/>
<path class="t" d="M856 357L888 352"/>
<path class="t" d="M864 340L872 337L888 338"/>
<path class="m" d="M855 360L888 356"/>
<path class="t" d="M883 350L892 347"/>
<ellipse class="o" cx="907" cy="361" rx="8.4" ry="19" transform="rotate(12 907 361)"/>
<ellipse class="t" cx="909.6" cy="361" rx="7" ry="16" transform="rotate(12 909.6 361)"/>
<path class="m" d="M906 344C907.3 344.5 911 345.8 914 347C917 348.2 921.2 349.3 924 351C926.8 352.7 929.3 354.8 931 357C932.7 359.2 933.5 362.8 934 364"/>
<path class="o" d="M934 364C933.7 365.7 933.3 371.3 932 374C930.7 376.7 928.3 378.7 926 380C923.7 381.3 920.7 382.2 918 382C915.3 381.8 911.3 379.5 910 379"/>
<ellipse class="m" cx="925.6" cy="366" rx="7" ry="13" transform="rotate(15 925.6 366)"/>
<path class="o" d="M916 358L934 363.6"/>
<path class="m" d="M900 363.6L906 363"/>
<path class="m" d="M910 380C910.3 381.3 910.7 386.3 912 388C913.3 389.7 916.8 388.7 918 390C919.2 391.3 918.8 395 919 396"/>
<path class="t" d="M919 396C919.2 397.3 918.8 401.8 920 404C921.2 406.2 924.3 409 926 409C927.7 409 928.8 406.2 930 404C931.2 401.8 932.7 399.3 933 396C933.3 392.7 932.2 386 932 384"/>
<path class="t" d="M918 390C919 389 922.3 385.3 924 384C925.7 382.7 927.3 382.3 928 382"/>
<path class="m" d="M916 390C917.3 393 921 401.3 924 408C927 414.7 931 423.3 934 430C937 436.7 941.2 441.7 942 448C942.8 454.3 939.5 464.7 939 468"/>
<path class="m" d="M890 360C892 363.3 898 372.7 902 380C906 387.3 910.3 396 914 404C917.7 412 921.3 420.7 924 428C926.7 435.3 928.5 442.7 930 448C931.5 453.3 932.5 458 933 460"/>
<path class="m" d="M944 456L938 460"/>
<path class="m" d="M952 440L955 428L958 430"/>
<path class="t" d="M953 432L956 434.4"/>
<ellipse class="m" cx="935" cy="415" rx="2.2" ry="5" transform="rotate(10 935 415)"/>
<ellipse class="m" cx="942.4" cy="433" rx="2.2" ry="5" transform="rotate(10 942.4 433)"/>
<ellipse class="t" cx="920" cy="412" rx="2" ry="5.6" transform="rotate(10 920 412)"/>
<ellipse class="t" cx="941" cy="404" rx="1" ry="2.4" transform="rotate(10 941 404)"/>
<ellipse class="o" cx="946" cy="375" rx="1.4" ry="3.2"/>
<ellipse class="o" cx="952" cy="388" rx="1.4" ry="3.6"/>
<ellipse class="m" cx="933.4" cy="378.4" rx="1" ry="2.4"/>
<path class="o" d="M949.6 359L949.6 363" style="stroke-width:3.4"/>
<path class="m" d="M949.6 365.6L950 369" style="stroke-width:2.4"/>
<path class="o" d="M956 354C955.7 356 954.5 361.7 954 366C953.5 370.3 952.8 375.3 953 380C953.2 384.7 954.8 389.3 955 394C955.2 398.7 953.5 404.7 954 408C954.5 411.3 957.3 413 958 414"/>
<path class="m" d="M960 364C960.3 366 961.8 372 962 376C962.2 380 961.7 384 961 388C960.3 392 958.8 396.3 958 400C957.2 403.7 956.3 408.3 956 410"/>
<path class="o" d="M953 374L962 374.4"/>
<path class="m" d="M953 386L961 386.4"/>
<path class="m" d="M954 400L959 401"/>
<path class="m" d="M954 408L958 414L968 424"/>
<path class="m" d="M958 412L970 410L976 412"/>
<path class="t" d="M960 420C961.3 419.3 965.7 416.8 968 416C970.3 415.2 973 415.2 974 415"/>
<path class="o" d="M968 377L970 380L969 383"/>
<path class="m" d="M888 406L912 405"/>
<path class="m" d="M890 420L908 420"/>
<path class="m" d="M905 407L916 432L922 432"/>
<path class="t" d="M908 406L919 431"/>
<path class="t" d="M900 436L914 435"/>
<path class="o" d="M883 410L886 415"/>
<path class="o" d="M890 425L892 428"/>
<path class="l" d="M904 221L904 243"/>

<!-- grommet 6 right -->
<path class="o" d="M940 179.1C940.1 178.7 940.3 177.1 940.9 176.6C941.5 176 942.6 175.9 943.5 175.9C944.3 176 945.2 176.8 946 176.9C946.9 177 947.6 176.4 948.6 176.4C949.5 176.5 950.6 177.5 951.8 177.3C952.9 177.1 954.1 175.8 955.6 175.3C957.1 174.8 958.6 174.3 960.7 174.3C962.8 174.3 966 174.6 968.3 175.3C970.7 176 972.9 177.1 974.7 178.5C976.5 179.9 978.1 181.9 979.2 183.6C980.2 185.3 980.9 186.9 981.1 188.7C981.3 190.5 981.1 192.6 980.4 194.4C979.8 196.2 978.6 197.8 977.3 199.5C975.9 201.2 974.1 203.5 972.2 204.6C970.3 205.7 967.8 206.2 965.8 206.2C963.8 206.2 962 205.5 960.1 204.6C958.1 203.7 956.1 202.3 954.3 200.8C952.5 199.3 950.5 197.6 949.2 195.7C947.9 193.8 947.3 191 946.7 189.3C946 187.6 946.1 186.6 945.4 185.5C944.7 184.4 943.1 184 942.2 182.9C941.3 181.9 940.3 179.8 940 179.1C939.6 178.5 939.8 179.5 940 179.1Z" style="stroke-width:3.1"/>
<path class="t" d="M942.8 179.1L946 181" style="stroke-width:1.5"/>
<path class="t" d="M946.7 180.1L963.9 187.1" style="stroke-width:1.5"/>
<path class="t" d="M953 178.8L966.7 185.2" style="stroke-width:1.5"/>
<path class="t" d="M961.3 177.3L973.4 182" style="stroke-width:1.3"/>
<path class="t" d="M947.3 185.5L962.9 191.9" style="stroke-width:1.5"/>
<path class="t" d="M950.5 193.1L962.3 198.6" style="stroke-width:1.5"/>
<path class="t" d="M966.7 185.2C966.3 185.8 964.6 187.1 963.9 188.7C963.2 190.2 962.9 192.6 962.6 194.4C962.3 196.2 962.2 198.3 962.3 199.5C962.4 200.7 963.1 201.1 963.2 201.4" style="stroke-width:1.5"/>
<path class="t" d="M973.4 182C973.9 182.6 975.4 184.3 976 185.5C976.6 186.7 977.1 188.7 977.3 189.3" style="stroke-width:1.3"/>
<path class="t" d="M963.2 201.4C964.1 201.4 966.9 201.9 968.3 201.4C969.8 201 971.5 199.3 972.2 198.9" style="stroke-width:1.3"/>
<path class="t" d="M959.4 202.1C960.5 202.3 963.9 203.4 965.8 203.3C967.7 203.2 969.6 202.3 970.9 201.4C972.2 200.6 973 198.8 973.4 198.2" style="stroke-width:1.3"/>
<path class="t" d="M969 187.4L975.4 188.7L976.6 191.2L972.2 191.9L970.9 195.7L973.4 197.6L977.3 195.7L977.9 192.5" style="stroke-width:1.5"/>
<path class="t" d="M969 187.4L966.4 193.1L969 197L970.9 195.7" style="stroke-width:1.5"/>
<path class="t" d="M972.2 191.9L976.6 191.2" style="stroke-width:1.3"/>
<path class="l" d="M980 181.7L1010 169.6"/>

<!-- motor 10 -->
<path class="o" d="M729 458L741 454L762 473L763 478L750 481.4L732 463.6L729 458"/>
<path class="t" d="M732 463.6L732.4 460L741 457L760 474.4"/>
<ellipse class="m" cx="741" cy="461" rx="2" ry="1.4" transform="rotate(20 741 461)"/>
<ellipse class="m" cx="751.4" cy="473.6" rx="2" ry="1.4" transform="rotate(20 751.4 473.6)"/>
<path class="o" d="M729 458C729.3 461.7 730.2 473 731 480C731.8 487 733 493.3 734 500C735 506.7 736.3 514.3 737 520C737.7 525.7 737.8 531.7 738 534"/>
<path class="o" d="M750 481.4C749.7 483.8 748.8 490.6 748 496C747.2 501.4 746.3 507.7 745 514C743.7 520.3 740.8 530.7 740 534"/>
<path class="t" d="M732.4 465C732.7 468.5 733.5 479.2 734.4 486C735.3 492.8 736.8 499.7 737.6 506C738.4 512.3 738.8 521 739 524"/>
<path class="o" d="M720 484L730 482.4"/>
<path class="o" d="M636 558C636.1 559.3 635.9 563.3 636.4 566C636.9 568.7 637.1 571 639 574C640.9 577 643.2 581.2 648 584C652.8 586.8 662 590 668 591C674 592 681.3 590.2 684 590"/>
<path class="o" d="M684 590L738 578.4L747 570L757 561L739 539L738 534"/>
<path class="m" d="M738 578.4L740 570L747 570"/>
<path class="t" d="M741 571L746 571L745 574L741 574L741 571"/>
<ellipse class="m" cx="732.4" cy="564.6" rx="5" ry="2.8" transform="rotate(10 732.4 564.6)"/>
<ellipse class="k" cx="732.4" cy="565" rx="2.8" ry="1.6" transform="rotate(10 732.4 565)"/>
<path class="m" d="M640 568C641.7 568.3 646 569.7 650 570C654 570.3 659 570.3 664 570C669 569.7 674.7 569.2 680 568C685.3 566.8 690.7 565.7 696 563C701.3 560.3 707.3 556.5 712 552C716.7 547.5 722 538.7 724 536"/>
<path class="m" d="M644 574C645.7 574.8 650 577.8 654 579C658 580.2 663 581 668 581C673 581 679 580.3 684 579C689 577.7 695.7 574 698 573"/>
<path class="o" d="M651 576C651.3 576.5 652.2 578.8 653 579C653.8 579.2 655.2 576.8 656 577C656.8 577.2 657.2 579.8 658 580C658.8 580.2 660.2 577.8 661 578C661.8 578.2 662.2 580.9 663 581C663.8 581.1 665.5 578.8 666 578.4" style="stroke-width:2.2"/>
<path class="o" d="M668 570L670 582"/>
<path class="m" d="M672 570L675 578"/>
<path class="o" d="M678 570L680 574L685 573.6L688 570L689 578" style="stroke-width:2.2"/>
<path class="o" d="M691 572L698 573" style="stroke-width:3"/>
<path class="o" d="M700 560C700.7 559 702 555.3 704 554C706 552.7 710.2 551.7 712 552C713.8 552.3 715 554.3 715 556C715 557.7 713.8 560.3 712 562C710.2 563.7 706 566.3 704 566C702 565.7 700.7 561 700 560"/>
<path class="m" d="M703 560C703.7 559.5 705.7 557.3 707 557C708.3 556.7 710.3 557.8 711 558"/>
<ellipse class="m" cx="668" cy="582" rx="4.4" ry="2.4"/>
<path class="w" d="M601 506C605 530 620 550 636 558C660 566 700 560 722 530C730 515 730 490 729 480L698 460L650 445L610 480Z"/>
<path class="o" d="M601 506C602.2 509 605.2 518.5 608 524C610.8 529.5 614.7 534.5 618 539C621.3 543.5 625 547.8 628 551C631 554.2 634.7 557.2 636 558.4"/>
<path class="o" d="M636 558.4C638 559.7 643.3 564.4 648 566C652.7 567.6 658.7 568.2 664 568C669.3 567.8 674.7 566.7 680 565C685.3 563.3 690.7 561.5 696 558C701.3 554.5 707.3 549.3 712 544C716.7 538.7 721.1 532 724 526C726.9 520 728.8 513 729.6 508C730.4 503 729.1 498 729 496"/>
<path class="o" d="M698 458C700.3 460 708 465.7 712 470C716 474.3 719.2 479.7 722 484C724.8 488.3 727.8 494 729 496"/>
<path class="m" d="M618 539C620.7 540.3 628.3 545.5 634 547C639.7 548.5 645.7 548.8 652 548C658.3 547.2 665.7 545.3 672 542C678.3 538.7 684.7 533.3 690 528C695.3 522.7 700.3 516.3 704 510C707.7 503.7 710.5 495.3 712 490C713.5 484.7 712.8 480 713 478"/>
<path class="m" d="M626 549C628.7 550 636.3 554 642 555C647.7 556 653.7 556.2 660 555C666.3 553.8 673.7 551.5 680 548C686.3 544.5 692.7 539.3 698 534C703.3 528.7 708.3 522.3 712 516C715.7 509.7 718.6 501.3 720 496C721.4 490.7 720.3 486 720.4 484"/>
<path class="t" d="M610 528C612.7 529.7 620 536.1 626 538C632 539.9 639.3 540.3 646 539.6C652.7 538.9 659.7 537.3 666 534C672.3 530.7 678.7 525.3 684 520C689.3 514.7 694.5 508.3 698 502C701.5 495.7 703.8 487.3 705 482C706.2 476.7 705 472 705 470"/>
<ellipse class="o" cx="650.4" cy="486.2" rx="53.4" ry="41.8" transform="rotate(-32 650.4 486.2)" style="fill:#fff"/>
<ellipse class="t" cx="651.4" cy="485.2" rx="49.4" ry="38" transform="rotate(-32 651.4 485.2)"/>
<path class="m" d="M664 466C665.3 466.7 670 467.7 672 470C674 472.3 676 476.3 676 480C676 483.7 674 488.3 672 492C670 495.7 667 499.3 664 502C661 504.7 655.7 507 654 508"/>
<path class="t" d="M667 464C668.7 465 674.8 467.2 677 470C679.2 472.8 680.2 477 680 481C679.8 485 678.2 490 676 494C673.8 498 670.3 502.2 667 505C663.7 507.8 657.8 510 656 511"/>
<rect class="m" x="631.5" y="456.4" width="11.0" height="7.2" rx="1" transform="rotate(-35 637.0 460.0)" style="stroke-width:1.5"/>
<rect class="m" x="615.5" y="470.8" width="11.0" height="7.2" rx="1" transform="rotate(-30 621.0 474.4)" style="stroke-width:1.5"/>
<rect class="m" x="607.5" y="487.4" width="11.0" height="7.2" rx="1" transform="rotate(-25 613.0 491.0)" style="stroke-width:1.5"/>
<rect class="m" x="610.5" y="503.4" width="11.0" height="7.2" rx="1" transform="rotate(-25 616.0 507.0)" style="stroke-width:1.5"/>
<rect class="m" x="676.5" y="460.8" width="11.0" height="7.2" rx="1" transform="rotate(-35 682.0 464.4)" style="stroke-width:1.5"/>
<rect class="m" x="678.5" y="476.0" width="11.0" height="7.2" rx="1" transform="rotate(-25 684.0 479.6)" style="stroke-width:1.5"/>
<rect class="m" x="669.5" y="492.8" width="11.0" height="7.2" rx="1" transform="rotate(-30 675.0 496.4)" style="stroke-width:1.5"/>
<rect class="m" x="653.9" y="507.4" width="11.0" height="7.2" rx="1" transform="rotate(-30 659.4 511.0)" style="stroke-width:1.5"/>
<path class="w" d="M651 452L666 442.5L677.5 450L648 512L645 523L623.5 521L621.5 514L626 507L618 498L632 486L640 470Z" style="stroke:#1a1a1a;stroke-width:2;stroke-linejoin:round"/>
<path class="o" d="M651 452L666 442.4L677.6 450L675.6 455.6"/>
<path class="m" d="M666 442.4L665 447L675.6 455.6L648 512.4"/>
<path class="t" d="M654 452L665 447"/>
<path class="o" d="M648 512.4L645 523L623.6 521L621.6 514L625 510"/>
<path class="m" d="M625 510L626 507L616 498L630 486L640 470L651 452"/>
<path class="m" d="M621.6 514L626 512L647 513.6"/>
<path class="o" d="M648 463L660 464L656 471L646 470L648 463"/>
<path class="o" d="M649 467L658 467.6" style="stroke-width:3"/>
<path class="m" d="M620 499L626 502L624 507"/>
<ellipse class="m" cx="629" cy="524.4" rx="3.6" ry="2.8"/>
<ellipse class="t" cx="629" cy="524.4" rx="1.6" ry="1.2"/>
<path class="m" d="M623.6 521L625 528L632 530L639 524"/>
<ellipse class="m" cx="630.4" cy="487.6" rx="1" ry="1"/>
<ellipse class="k" cx="647" cy="484" rx="10" ry="7.6" transform="rotate(-20 647 484)"/>
<ellipse class="w" cx="644" cy="481" rx="7.6" ry="5.6" transform="rotate(-20 644 481)" style="stroke:#1a1a1a;stroke-width:1.6"/>
<path class="w" d="M632 469L640 465L648 477L642 484L634 482Z"/>
<path class="o" d="M632.4 471C632.7 470.4 633 468.4 634 467.6C635 466.8 637.1 466.2 638.4 466.4C639.7 466.6 641.4 468.6 642 469"/>
<path class="o" d="M632.4 471C632.7 471.8 633.3 474.4 634.4 475.6C635.5 476.8 637.7 476.9 639 478C640.3 479.1 640.8 481.5 642 482.4C643.2 483.3 644.7 483.8 646 483.6C647.3 483.4 649.5 482.1 650 481C650.5 479.9 649.8 478 649 477C648.2 476 646.2 476.3 645 475C643.8 473.7 642.5 470 642 469"/>
<ellipse class="m" cx="637.6" cy="471" rx="4.4" ry="3" transform="rotate(-20 637.6 471)"/>
<path class="t" d="M635 475.6C635.7 475.5 637.8 475.8 639 475C640.2 474.2 641.8 471.7 642.4 471"/>
<path class="t" d="M642.4 482.4C643 482 644.9 480.8 646 480C647.1 479.2 648.5 478 649 477.6"/>
<path class="l" d="M613.6 568L640 559"/>

<!-- parts 9, 15, 16 -->
<path class="o" d="M577.7 429.6C577.8 428.1 577.2 423.3 578.3 420.5C579.3 417.6 581.5 414.8 584 412.4C586.5 410 590.1 407.5 593.2 406.1C596.2 404.8 599.5 404.1 602.3 404.4C605.2 404.7 608.3 405.9 610.4 407.8C612.5 409.8 614.2 414.5 615 415.9C615.7 416.4 618.6 417.6 619.5 419.3C620.4 421 620.7 424.4 620.3 426.2C620 428 618 429.3 617.5 429.9L614.2 427.3C613.7 427.9 612.6 429.6 611.5 430.8C610.4 432 608.2 433.8 607.5 434.4L608.3 440.2L598.9 444.8L595.5 440.2C594.3 440.3 590.7 441.1 588.6 440.8C586.5 440.4 584.7 439.7 582.8 437.9C581 436 578.5 431 577.7 429.6" style="stroke-width:3"/>
<path class="m" d="M615 415.9C615 416.8 615.3 419.7 615.2 421.6C615 423.5 614.3 426.4 614.2 427.3"/>
<path class="m" d="M595.5 440.2C596.6 439.8 600.3 438.6 602.3 437.7C604.3 436.7 606.6 435 607.5 434.4"/>
<path class="l" d="M580.3 400.4L585.4 423.7"/>
<path class="o" d="M564.5 442.5L573.7 440.8L585.1 444.2L585.1 450.5L579.4 457.4L579.4 468.9L556.5 468.3L554.7 463.1L561.1 448.2L564.5 442.5" style="stroke-width:3.4"/>
<path class="o" d="M561.1 448.2L569.7 447.4L580.6 449.1L585.1 444.2"/>
<path class="m" d="M569.7 447.4L563.3 461.7L556.5 468.3"/>
<path class="o" d="M563.3 461.7L574.2 462.9L579.4 457.4" style="stroke-width:3"/>
<path class="o" d="M562.2 449.1L567.9 456" style="stroke-width:3"/>
<path class="o" d="M564.5 449.1C565.1 448.7 566.6 446.8 567.9 446.8C569.3 446.8 571.6 448 572.5 449.1C573.5 450.3 574.1 452.6 573.7 453.7C573.3 454.9 571.5 456 570.2 456C569 456 566.9 454.1 566.2 453.7"/>
<path class="o" d="M567.4 449.1L572.5 454.9"/>
<path class="m" d="M569.7 448L574.8 452.6"/>
<path class="o" d="M562.2 458.3L567.9 459.4L569.7 461.7" style="stroke-width:3.4"/>
<path class="o" d="M574.2 462.9L575 468.6"/>
<path class="o" d="M558.2 465.8L573.7 466.6" style="stroke-width:4.5"/>
<path class="o" d="M578.3 450.3L582.8 451.7" style="stroke-width:3.2"/>
<path class="o" d="M576 454.9L579.4 456" style="stroke-width:3"/>
<path class="l" d="M565.6 473.8L563.9 493.6"/>
<path class="o" d="M610.4 387.2C610.7 386.8 611.1 385.2 612.7 384.7C614.2 384.2 618.4 384.4 619.5 384.3L627.6 386.1L650.5 388.3C650.9 388.7 652.5 387.9 652.8 390.6C653.1 393.4 652.3 402.6 652.2 405L649.9 407.3L618.4 402.7L616.7 397.5L618.4 392.9"/>
<path class="o" d="M610.4 387.2C610.3 387.8 609.3 389.7 609.8 390.6C610.3 391.6 611.8 392.3 613.2 392.7C614.7 393.1 617.5 392.9 618.4 392.9"/>
<ellipse class="m" cx="613.6" cy="388.3" rx="1.4" ry="1"/>
<path class="m" d="M619.5 384.3L620.1 392.9"/>
<path class="o" d="M628.7 386.1C628.9 385.5 628.8 383.6 629.9 382.8C630.9 382.1 633.4 381.4 635 381.5C636.6 381.5 638.7 382.2 639.6 383.2C640.6 384.1 640.6 386.5 640.8 387.2"/>
<path class="m" d="M630.4 386.1C630.7 385.7 631.2 384.4 631.9 384C632.7 383.5 634 383.2 635 383.3C636.1 383.4 637.5 384 638.1 384.7C638.8 385.3 638.9 386.8 639 387.2"/>
<path class="k" d="M617.5 395.5L649.5 397.5L650 405.5L619 404Z"/>
<circle class="k" cx="625.5" cy="400.5" r="5"/>
<circle class="k" cx="642.5" cy="402" r="5"/>
<rect class="w" x="632" y="392.5" width="3.4" height="3"/>
<rect class="w" x="640" y="391.5" width="3" height="3.5"/>
<rect class="w" x="624" y="392" width="3" height="2.5"/>
<path class="o" d="M624.1 388.9L628.7 388.6L629.3 392.4L624.7 392.7L624.1 388.9"/>
<path class="o" d="M632.2 389.5L636.7 389.3" style="stroke-width:3.4"/>
<path class="o" d="M633.3 390.6L633.5 404.4"/>
<path class="o" d="M639 389.5L644.8 390.1L645 394.1L640.2 393.9L639 389.5"/>
<path class="m" d="M648.2 390.6L649.9 404.4"/>
<path class="l" d="M652.2 404.4L676.3 405.3"/>

<!-- parts 12, 13 -->
<path class="k" d="M568 623L579 622.4L582.6 630L571 631.2Z"/>
<path class="w" d="M572 626L578 625.6L579 628L573 628.4Z"/>
<path class="m" d="M583.4 627.2L586 627.2"/>
<path class="m" d="M588 627.2L591.4 627.2"/>
<path class="k" d="M594 616C596 612.5 605 612.5 607.5 616L608 621C607 624 605.5 625 605 626L604.6 630C603 633 597 633 595.4 630L594.6 626C593 624 593 619 594 616Z"/>
<path class="w" d="M596.5 625.5L603.5 625.5L603.5 629.5L596.5 629.5Z"/>
<path class="t" d="M594.6 618C595.5 618.3 598 620 600 620C602 620 605.5 618.3 606.6 618" style="stroke:#fff;stroke-width:0.9"/>
<path class="t" d="M594.2 621C595.2 621.3 598 623 600 623C602 623 605.2 621.3 606.2 621" style="stroke:#fff;stroke-width:0.9"/>
<path class="l" d="M598.6 635L596.6 655"/>
<path class="m" d="M657.8 611.6L661.2 598.8L666.9 598.8L667.5 595.3L672.7 595.3L673.3 598.8L677.3 599.3L677.3 607.9"/>
<path class="t" d="M661.2 598.8L662.9 611.4"/>
<path class="k" d="M676.5 608.5C678 606 681 606 682 608C684 606.5 686 607.5 687 611L676.5 611.5Z"/>
<path class="m" d="M685.9 609.7L724.3 609.7L726 615"/>
<path class="k" d="M659.5 615.4L725 615.4L730.6 623L733 639L714.5 639L709 647L699.5 647.5L695 639L674.5 639L664.6 636L659.5 628.6Z"/>
<rect class="k" x="648.3" y="618" width="11.5" height="13.5" rx="3.5"/>
<rect class="w" x="662.9" y="621.5" width="5.7" height="2.8"/>
<rect class="w" x="674.4" y="620.6" width="6.9" height="3.0"/>
<rect class="w" x="698.5" y="619.2" width="18.3" height="2.3"/>
<rect class="w" x="683.6" y="627.7" width="5.2" height="1.8"/>
<rect class="w" x="704.2" y="629.2" width="6.9" height="3.9"/>
<rect class="w" x="713.4" y="628.3" width="11.5" height="1.8"/>
<rect class="w" x="675.6" y="635.8" width="14.9" height="1.6"/>
<rect class="w" x="713.4" y="635.8" width="9.2" height="1.8"/>
<rect class="w" x="720.3" y="622.3" width="3.7" height="2.5"/>
<rect class="w" x="666.1" y="630.6" width="2.8" height="2.5"/>
<rect class="w" x="692.2" y="622.8" width="3.4" height="3.4"/>
<rect class="w" x="699.6" y="638.9" width="4.6" height="3.4"/>
<path class="o" d="M658.3 611.6L666.4 611.9L666.6 616L658.9 615.7L658.3 611.6"/>
<path class="o" d="M715.7 611.9L724.3 612.3L724.9 615.7"/>
<path class="m" d="M719.1 613.4L722.6 613.7L722.8 615.7L719.4 615.7L719.1 613.4"/>
<path class="o" d="M727.2 617.1L746.1 617.3" style="stroke-width:3.2;stroke-linecap:butt"/>
<rect class="o" x="745.6" y="613.4" width="6" height="7.6" rx="1.5" style="stroke-width:2.2"/>
<path class="o" d="M732.9 633.2L752.2 633.4" style="stroke-width:3.2;stroke-linecap:butt"/>
<rect class="o" x="752" y="629.4" width="6.2" height="7.8" rx="1.5" style="stroke-width:2.2"/>
<path class="o" d="M728.3 611.9C728.7 611.4 729.3 609.2 730.6 608.5C731.9 607.8 734.6 607.5 736.3 607.7C738 607.9 739.9 608.8 740.7 609.7C741.5 610.6 741.5 612.2 740.9 613.1C740.4 614 739 614.7 737.5 615C735.9 615.4 733.3 615.6 731.7 615C730.2 614.5 728.9 612.5 728.3 611.9" style="stroke-width:3"/>
<path class="o" d="M731.7 610.8L737.5 610.5" style="stroke-width:3"/>
<path class="l" d="M719.1 640L716.6 655"/>

<!-- capacitor 8 -->
<path class="o" d="M460 474C460.8 474.5 463.7 475.8 465 477C466.3 478.2 467.3 479.9 468 481.4C468.7 482.9 468.8 485.2 469 486" style="stroke-width:3"/>
<path class="o" d="M469 486L455 548.6" style="stroke-width:3"/>
<ellipse class="o" cx="438.6" cy="546" rx="16" ry="9.2" transform="rotate(-8 438.6 546)" style="stroke-width:3;fill:#fff"/>
<path class="w" d="M429 461L416 523C420 532 438 535 445 527L460 466Z"/>
<path class="o" d="M415.6 523L429 461.4C429.2 460.7 429.4 458.6 430.4 457.4C431.4 456.2 432.4 455.1 435 454.4C437.6 453.7 442.5 453 446 453.4C449.5 453.8 453.6 455.4 456 457C458.4 458.6 459.6 461.3 460.4 463C461.2 464.7 460.9 466.3 461 467" style="stroke-width:3"/>
<path class="o" d="M461 467L445 527.4"/>
<ellipse class="o" cx="430.4" cy="526" rx="14.6" ry="8" transform="rotate(-8 430.4 526)" style="stroke-width:2.6;fill:#fff"/>
<path class="o" d="M415.6 523C416 524 416.6 527.3 418 529C419.4 530.7 421.3 532.2 424 533C426.7 533.8 432.3 533.8 434 534" style="stroke-width:3"/>
<path class="o" d="M427.6 521L426 535" style="stroke-width:3.6"/>
<path class="o" d="M433 522L431.6 539" style="stroke-width:3.6"/>
<path class="o" d="M436 540L434 558" style="stroke-width:3.6"/>
<path class="o" d="M441 540.6L439.4 560" style="stroke-width:3.6"/>
<path class="o" d="M432.4 557.4L441.6 559.4" style="stroke-width:3.6"/>
<path class="o" d="M419.6 584L431.6 584" style="stroke-width:3.4;stroke-linecap:butt"/>
<path class="o" d="M457.6 584L470.4 584" style="stroke-width:3.4;stroke-linecap:butt"/>
<rect class="m" x="431.6" y="580.6" width="26" height="6.8" rx="3" style="stroke-width:1.6"/>
<path class="l" d="M396.4 487L423 487"/>
<path class="l" d="M469 487L492 487"/>
<path class="l" d="M445.6 583L445.6 602"/>

<!-- part 14 -->
<path class="o" d="M363 676C364 674.2 365.5 668 369 665C372.5 662 378.5 659.7 384 658C389.5 656.3 396.3 656.1 402 655C407.7 653.9 413.3 651.9 418 651.6C422.7 651.3 428 652.8 430 653C431.3 654.2 435.3 657.2 438 660C440.7 662.8 443.3 666.8 446 670C448.7 673.2 451.5 676.7 454 679C456.5 681.3 459.8 683.2 461 684L464 696L460 700C459 699.3 455.7 698 454 696C452.3 694 450.7 689.3 450 688L440 690L439 704C437.5 705.3 434.2 709.5 430 712C425.8 714.5 420 717.7 414 719C408 720.3 397.3 719.5 394 719.6L392 722L386 721L384 717C382.3 715.5 377 711.2 374 708C371 704.8 367.3 699.7 366 698L354 697L353.6 686L363 685L363 676" style="stroke-width:3"/>
<path class="o" d="M370 677C371 675.6 372.7 670.8 376 668.4C379.3 666 385 664.1 390 662.4C395 660.7 401 659.7 406 658.4C411 657.1 416 655.3 420 654.4C424 653.5 428.3 653.2 430 653"/>
<path class="o" d="M370 677C370.2 678 369.7 682.5 371 683C372.3 683.5 375.8 681.3 378 680C380.2 678.7 381.3 676.7 384 675C386.7 673.3 390.7 671.2 394 670C397.3 668.8 402.3 668.3 404 668" style="stroke-width:3"/>
<path class="o" d="M404 668C405 666.7 407.3 662.3 410 660C412.7 657.7 418.3 655.3 420 654.4"/>
<path class="m" d="M404 670L430 666"/>
<path class="o" d="M420 654.4L430 666L442 682"/>
<path class="o" d="M378 668C378.2 669 379.3 672.3 379 674C378.7 675.7 376.5 677.3 376 678"/>
<path class="o" d="M386 664.4C386.2 665.3 387.3 668.4 387 670C386.7 671.6 384.5 673.3 384 674"/>
<path class="o" d="M394 661.6C394.2 662.5 395.2 665.6 395 667C394.8 668.4 393.3 669.5 393 670"/>
<path class="m" d="M402 659.6L402.4 665"/>
<ellipse class="m" cx="402" cy="679" rx="11" ry="6" transform="rotate(8 402 679)" style="stroke-width:2"/>
<path class="o" d="M414 686.4L440 682.4" style="stroke-width:3.2;stroke-dasharray:6 1.5"/>
<path class="o" d="M410 685L411 688"/>
<path class="m" d="M374 684L390 681"/>
<path class="o" d="M430 654C431.2 655.5 434.5 659.8 437 663C439.5 666.2 442.3 669.8 445 673C447.7 676.2 450.5 679.2 453 682C455.5 684.8 458.4 687.3 460 690C461.6 692.7 462 696.7 462.4 698" style="stroke-width:4.5;stroke-dasharray:7 3"/>
<path class="o" d="M434 655C435.3 656.8 439.3 662.5 442 666C444.7 669.5 447.5 673.2 450 676C452.5 678.8 455.8 681.8 457 683"/>
<path class="o" d="M364 686C366 687.1 371 690.4 376 692.4C381 694.4 387.7 696.9 394 698C400.3 699.1 407.7 699.3 414 699C420.3 698.7 427.8 697.5 432 696C436.2 694.5 437.8 691 439 690"/>
<path class="t" d="M366 690C368 691 373.3 694.2 378 696C382.7 697.8 388 700 394 701C400 702 407.8 702.2 414 702C420.2 701.8 428.2 700 431 699.6"/>
<path class="o" d="M434 698C434.3 697 434.7 693.5 436 692C437.3 690.5 439.7 689.7 442 689C444.3 688.3 448.7 688.2 450 688"/>
<path class="m" d="M374 692L372 706.4"/>
<path class="t" d="M369 689L367.6 700"/>
<path class="t" d="M371 690L369.6 703"/>
<path class="m" d="M390 698L388 718"/>
<path class="m" d="M396 699L394 719"/>
<path class="m" d="M418 699L415 718"/>
<ellipse class="m" cx="359" cy="692.4" rx="1.8" ry="2.2"/>
<path class="l" d="M345.4 655.6L368 665"/>

<!-- cover 11 -->
<path class="o" d="M475.9 728.1L697.7 727.5C698 728.1 700.1 729.2 699.8 731.2C699.6 733.2 696.7 738.3 696.1 739.8C694.1 741.6 688 743.8 683.9 750.5C679.8 757.1 675.5 770.1 671.7 779.5C667.8 789 663.8 798.9 661 807.1C658.2 815.2 656.1 823.6 654.8 828.5C653.6 833.3 653.3 833.6 653.3 836.1C653.3 838.7 654.6 842.5 654.8 843.8L650.3 849.3L657.9 851.4L659.4 856.6C661.5 859.1 667.1 864.8 671.7 871.3C676.3 877.8 682.9 887.6 687 895.8C691 903.9 693.6 912.1 696.1 920.3C698.7 928.4 700.5 938.1 702.3 944.7C704 951.4 705.3 956.4 706.8 960C708.4 963.6 710.7 965.1 711.4 966.1L711.4 970.7L532.5 970.7L527.9 962.5L535.5 961.5L534 956.3L524.8 955.4C522.3 951.6 514.6 940.4 509.5 932.5C504.4 924.6 498.3 917.2 494.2 908C490.2 898.8 487.4 886.3 485.1 877.4C482.8 868.5 481.2 858.3 480.5 854.5L488.1 854.5L488.1 849.9L480.5 849.9C479.8 848.6 477.3 845.8 476.5 842.2C475.7 838.7 475.5 834.3 475.9 828.5C476.3 822.6 478.2 815.7 478.9 807.1C479.7 798.4 480.7 786.2 480.5 776.5C480.2 766.8 477.9 753.5 477.4 748.9L472.8 737.3L475.9 728.1"/>
<path class="t" d="M478.3 748.9L683.9 750.5"/>
<path class="o" d="M476.5 827L655.5 827" style="stroke-width:2.2"/>
<path class="t" d="M478.3 832.2L653.3 832.2"/>
<path class="m" d="M480.5 842.9L652.7 842.2"/>
<path class="m" d="M504.9 755.1C510.8 754.5 528.1 752.4 540.1 751.4C552.1 750.4 570.7 749.4 576.8 748.9C583 749.4 600.8 750.4 613.5 751.4C626.3 752.4 646.7 754.5 653.3 755.1L641.1 798.5C635.5 797.9 619.2 795.7 607.4 794.8C595.7 794 576.8 793.6 570.7 793.3C565.1 793.6 548.3 794.1 537.1 794.8C525.8 795.6 509 797.4 503.4 797.9L504.9 755.1"/>
<path class="t" d="M524.8 750.8C529.4 749.6 543.2 745 552.4 743.4C561.5 741.9 570.7 741.3 579.9 741.3C589.1 741.3 598.5 741.8 607.4 743.4C616.3 745.1 629.1 750.1 633.4 751.4"/>
<path class="m" d="M503.4 797.9C507.5 799.7 517.2 805.6 527.9 808.6C538.6 811.6 553.9 815.6 567.7 815.6C581.4 815.6 598.2 811.5 610.5 808.6C622.7 805.7 636 800.2 641.1 798.5"/>
<path class="t" d="M524.8 806.1C528.4 805 538.6 801.1 546.2 799.4C553.9 797.8 562 796.5 570.7 796.4C579.4 796.2 589.8 797.1 598.2 798.5C606.7 799.9 617.4 803.6 621.2 804.6"/>
<path class="t" d="M582 739.8C580.9 743.3 577.3 752.5 575.3 761.2C573.3 769.8 571.4 782.8 570.1 791.8C568.8 800.7 568.1 811.1 567.7 815"/>
<ellipse class="m" cx="495.8" cy="733" rx="6.1" ry="4.9" transform="rotate(-20 495.8 733)"/>
<ellipse class="k" cx="494.9" cy="733.6" rx="2.8" ry="2.1"/>
<ellipse class="m" cx="677.2" cy="733" rx="6.1" ry="4.9" transform="rotate(-20 677.2 733)"/>
<ellipse class="k" cx="676.3" cy="733.6" rx="2.8" ry="2.1"/>
<path class="o" d="M670.1 866.7L757.9 866.7C758.3 867.5 760.1 869.5 760.4 871.3C760.7 873.1 759.9 876.4 759.8 877.4C758.8 878.4 756.7 880.7 754.3 883.5C751.8 886.3 746.6 892.5 745.1 894.2C742.5 898.6 734.4 911.8 729.8 920.3C725.2 928.7 720.6 937.1 717.5 944.7C714.5 952.4 712.5 962.6 711.4 966.1"/>
<path class="m" d="M696.1 894.2L745.1 894.2"/>
<path class="m" d="M725.2 897.3L706.8 957"/>
<path class="t" d="M671.7 871.3L696.1 894.2"/>
<ellipse class="m" cx="737.4" cy="874.4" rx="6.1" ry="4.9" transform="rotate(-20 737.4 874.4)"/>
<ellipse class="k" cx="736.8" cy="874.7" rx="2.8" ry="2.1"/>
<path class="o" d="M690 891.2C690.5 893 692.7 898.6 693.1 901.9C693.5 905.2 692.6 909.5 692.5 911.1"/>
<path class="m" d="M688.5 898.8L696.1 897.3"/>
<path class="t" d="M696.1 897.3C697.2 902.2 700.5 916.4 702.3 926.4C704 936.3 706.1 951.9 706.8 957"/>
<rect class="k" x="697.5" y="955" width="8" height="5.5"/>
<path class="m" d="M491.2 900.4L495.8 901.9"/>
<path class="m" d="M497.3 909.5L500.4 911.1"/>
<path class="l" d="M461 780.4L497 780.4"/>

<!-- labels -->
<text x="97.3" y="188.8" class="b" style="font-size:32.5px" style="stroke:#1a1a1a;stroke-width:0.9">7</text>
<text x="225" y="176.9" class="b" style="font-size:30.3px">6</text>
<text x="272.2" y="504" class="b" style="font-size:30.3px">19</text>
<text x="404.2" y="113.5" class="b" style="font-size:30.3px">18A</text>
<text x="430" y="230.6" class="b" style="font-size:30.3px">18</text>
<text x="384.3" y="301.5" class="b" style="font-size:30.3px">17</text>
<text x="604.7" y="106.5" class="b" style="font-size:30.3px">4</text>
<text x="835.8" y="67.6" class="b" style="font-size:30.3px">1</text>
<text x="834.5" y="127.1" class="b" style="font-size:30.3px">2</text>
<text x="811.1" y="181.6" class="b" style="font-size:30.3px">3</text>
<text x="893.2" y="214.8" class="b" style="font-size:30.3px">5</text>
<text x="1015" y="172.5" class="b" style="font-size:30.3px">6</text>
<text x="1052.7" y="222.5" class="b" style="font-size:30.3px">7</text>
<text x="353.2" y="498.5" class="b" style="font-size:30.3px">8A</text>
<text x="496.1" y="496.2" class="b" style="font-size:30.3px">8B</text>
<text x="428.7" y="624.7" class="b" style="font-size:30.3px">8C</text>
<text x="681" y="415.5" class="b" style="font-size:30.3px">9</text>
<text x="574.5" y="583.6" class="b" style="font-size:30.3px">10</text>
<text x="422.2" y="789.2" class="b" style="font-size:30.3px">11</text>
<text x="578.8" y="682.2" class="b" style="font-size:30.3px">12</text>
<text x="698.7" y="683.2" class="b" style="font-size:30.3px">13</text>
<text x="303.5" y="661.6" class="b" style="font-size:30.3px">14</text>
<text x="561" y="395.8" class="b" style="font-size:30.3px">15</text>
<text x="544.8" y="518.9" class="b" style="font-size:30.3px">16</text>

</svg>
</body>
</html>
